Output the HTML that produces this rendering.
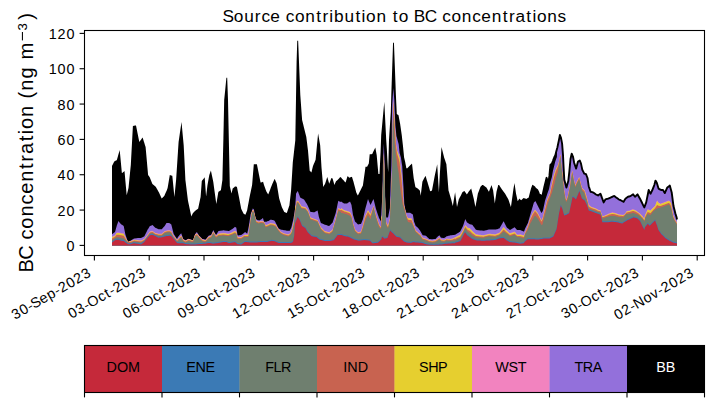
<!DOCTYPE html>
<html><head><meta charset="utf-8"><title>BC source contribution</title>
<style>html,body{margin:0;padding:0;background:#fff;width:714px;height:402px;overflow:hidden}
svg{display:block;font-family:"Liberation Sans",sans-serif}
text{font-family:"Liberation Sans",sans-serif}</style></head>
<body>
<svg width="714" height="402" viewBox="0 0 714 402">
<rect width="714" height="402" fill="#fff"/>
<polygon fill="#000000" points="112,245.6 112,165.7 112.1,165.7 113,163.98 114,162.07 114.3,161.5 115,161.11 116,160.55 116.7,160.16 116.8,160.1 117,159.41 118,155.96 118.4,154.58 119,152.51 119.7,150.1 120,153.26 121,163.81 121.9,173.3 122,173.22 123,172.37 123.7,171.78 124,171.52 124.5,171.1 125,176.58 125.4,180.96 126,187.53 126.7,195.2 127,194 128,190 128.5,188 129,183 130,173 130.6,167 130.8,165 131,161.29 132,142.71 132.9,126 133,125.98 134,125.79 134.1,125.77 135,125.59 136,125.4 137,130.43 137.6,133.45 138,135.46 139,140.49 139.3,142 140,141.02 141,139.63 142,138.24 142.6,137.4 143,138.69 144,141.93 144.2,142.57 145,145.16 145.6,147.1 146,151.56 147,162.72 147.4,167.19 148,173.88 148.1,175 149,176.32 149.7,177.35 149.8,177.5 150,178 151,180.5 152,183 152.4,184 152.5,184.08 153,184.49 154,185.32 155,186.14 155.3,186.39 155.8,186.8 156,187.16 157,188.95 158,190.73 158.5,191.63 159,192.52 159.1,192.7 160,194.74 161,197.01 161.7,198.6 162,198.3 163,197.3 164,196.3 164.2,196.1 164.5,195.42 165,194.28 166,192.02 166.5,190.88 166.8,190.2 167,189.65 167.6,188 168,185.64 169,179.73 169.3,177.95 169.8,175 170,175.06 171,175.38 171.3,175.48 172,175.7 172.3,175.8 173,182.83 173.7,189.87 174,192.88 174.4,196.9 175,190.94 176,180.99 176.1,180 177,166.32 178,151.12 178.4,145.04 178.6,142 179,139.24 180,132.34 181,125.45 181.2,124.07 181.5,122 182,127.32 183,137.95 183.2,140.08 183.7,145.4 184,151.51 185,171.86 185.4,180 185.6,181.62 186,184.87 187,192.99 187.9,200.3 188,200.77 188.4,202.67 189,205.51 190,210.24 191,214.98 191.1,215.45 191.3,216.4 192,215 193,213 193.1,212.9 194,212 195,211 195.1,210.9 195.5,210.5 196,210.17 196.9,209.58 197,209.52 198,208.87 198.1,208.8 199,204.52 199.1,204.04 200,199.76 200.6,196.9 201,191.6 201.8,181 202,180.74 202.3,180.36 203,179.47 204,178.19 204.7,177.3 205,181.41 205.5,188.27 206,195.13 206.1,196.5 207,189.11 207.5,185 208,182.22 208.7,178.33 209,176.67 209.3,175 210,173.03 210.9,170.5 211,170.98 211.1,171.46 212,175.77 213,180.56 213.3,182 214,187.13 215,194.47 216,201.8 216.3,204 217,199.93 218,194.12 218.4,191.8 218.5,191.74 219,191.42 220,190.78 220.9,190.2 221,189.52 222,182.72 222.4,180 223,154.8 223.4,138 223.7,123.75 224,109.5 224.2,100 225,91.93 226,81.84 226.3,78.81 226.4,77.8 227,77.8 227.2,77.8 228,100 228.8,138 228.9,142.8 229,147.6 229.8,186 230,186.88 231,191.29 231.5,193.5 232,191.42 232.4,189.75 232.7,188.5 233,188.25 234,187.41 235,186.57 235.2,186.4 236,186.59 236.3,186.66 236.9,186.8 237,187.29 237.6,190.26 238,192.24 238.6,195.2 239,197.29 240,202.52 241,207.75 241.1,208.28 241.2,208.8 242,210.4 243,212.4 243.7,213.8 244,213.96 244.6,214.28 245,214.49 245.4,214.7 246,213.22 247,210.75 247.1,210.5 247.2,209.96 248,205.6 248.4,203.43 248.9,200.71 249,200.16 249.6,196.9 250,195.01 250.6,192.18 251,190.29 251.7,186.99 252,185.57 252.1,185.1 252.3,182.65 252.8,176.54 253,174.09 253.1,172.86 253.4,169.19 253.8,164.3 253.9,164.3 254,164.3 254.5,164.3 255,164.3 255.1,164.3 255.6,164.3 256,164.3 256.2,164.3 256.9,164.3 257,164.79 257.3,166.28 258,169.74 258.4,171.72 259,174.69 259.5,177.16 260,179.63 260.6,182.6 261,182.47 261.8,182.22 262,182.15 262.9,181.86 263,181.83 263.1,181.8 263.5,183.27 264,185.1 265,187.78 265.1,188.05 265.7,189.66 266,190.46 266.3,191.26 266.5,191.8 267,192.56 267.4,193.18 268,194.09 268.2,194.4 268.5,193.66 269,192.42 269.9,190.2 270,189.94 270.2,189.42 270.7,188.11 271,187.32 271.8,185.23 272,184.71 272.5,183.4 273,182.38 273.5,181.35 274,180.33 274.6,179.1 274.7,178.9 275,179.58 275.2,180.03 275.8,181.38 276,181.83 276.3,182.5 276.7,183.4 277,185.22 277.4,187.66 278,191.3 278.6,194.95 279,197.38 279.2,198.6 279.7,200.23 280,201.22 280.8,203.83 281,204.48 281.8,207.1 282,207.5 283,209.5 284,211.5 284.1,211.7 284.3,212.1 285,212.35 286,212.71 286.8,213 287,212.42 287.5,210.95 288,209.49 288.1,209.2 289,206.57 289.4,205.4 289.7,202.72 290,200.04 290.3,197.35 291,191.09 291.1,190.2 291.4,185.28 292,175.43 292.8,162.3 293,160.54 293.1,159.66 293.7,154.38 294,151.74 294.2,149.98 294.5,147.34 294.8,144.7 295,142.94 295.3,140.3 296,98.14 296.1,92.12 296.6,62 296.9,52.17 297,48.89 297.25,40.7 297.6,40.7 297.8,40.7 298,40.7 298.15,40.7 298.2,41.97 298.5,49.62 299,62.36 299.3,70 299.5,75 300,87.5 300.2,92.5 300.3,95 301,104.72 301.5,111.67 302,118.61 302.1,120 303,123.62 304,127.65 305,131.67 305.3,132.88 306,135.69 306.3,136.9 307,142.5 307.3,144.9 307.9,149.7 308,150.5 309,162.44 309.7,170.8 310,171.1 310.5,171.6 311,172.1 311.4,172.5 311.8,170.9 312,170.1 313,166.1 313.1,165.7 314,163.58 314.4,162.63 315,161.22 315.6,159.8 316,155.59 316.3,152.44 317,145.07 317.6,138.76 318,134.55 318.1,133.5 318.9,138.03 319,138.6 319.5,141.43 320,144.27 320.2,145.4 320.8,155.55 321,158.94 321.5,167.4 322,173.16 323,184.69 323.2,187 324,185.61 324.7,184.39 325,183.87 325.1,183.7 326,180.92 327,177.83 327.3,176.9 328,179.41 329,182.98 329.2,183.7 329.9,181.92 330,181.66 331,179.12 331.4,178.1 332,178.25 332.5,178.38 332.6,178.4 333,179.89 333.8,182.87 334,183.61 334.4,185.1 335,183.62 335.7,181.89 335.9,181.4 336,181.31 337,180.44 337.5,180 337.6,179.89 338,179.47 338.3,179.14 339,178.4 340,177.33 340.4,176.9 340.9,177.45 341,177.56 341.5,178.11 342,178.66 343,179.77 344,180.87 344.3,181.2 345,181.9 345.6,182.5 346,181.17 347,177.86 347.5,176.2 347.7,176.2 348,176.48 348.4,176.86 349,177.42 349.4,177.8 350,177.54 351,177.1 351.5,176.88 351.9,176.7 352,177.02 353,180.19 353.6,182.1 353.8,182.88 354,183.65 355,187.54 356,191.42 356.2,192.2 357,193.9 357.8,195.6 358,195.21 359,193.25 359.1,193.05 360,191.28 360.4,190.5 361,189.3 362,187.3 362.9,185.5 363,184.78 364,177.59 364.5,173.99 365,170.4 365.5,166.8 366,166.8 367,166.8 367.1,166.8 368,165.05 368.8,163.5 369,161.43 369.7,154.2 369.9,154.2 370,154.2 370.5,154.2 371,154.2 371.4,154.2 372,154.05 372.2,154 372.6,153.16 373,152.32 373.5,151.27 374,150.23 375,148.13 375.3,147.5 376,151.3 376.7,155.1 377,158.45 378,169.63 378.4,174.1 379,174.1 379.5,174.1 380,163.96 380.6,151.8 381,140.6 381.2,135 381.3,133.93 381.5,131.78 382,126.41 382.5,121.04 382.9,116.74 383,115.66 383.2,113.52 383.8,107.07 384,104.92 384.3,101.7 384.4,103.7 384.7,109.7 385,115.7 385.2,119.7 385.3,121.7 386,135.7 386.2,139.7 386.8,148.4 387,152.07 387.4,159.42 387.9,168.6 388,169.73 388.2,172 388.6,155 389,139.7 389.9,125.8 390,124.26 390.1,122.71 390.6,114.99 390.8,111.9 390.9,108.52 391,105.14 391.3,95 391.4,92.02 391.7,83.07 391.8,80.09 392,74.12 392.2,68.15 392.3,65.17 392.6,56.22 392.8,50.26 393,44.29 393.05,42.8 393.3,42.8 393.8,42.8 393.95,42.8 394,44.14 394.3,52.17 394.4,54.85 394.8,65.55 394.9,68.23 395,70.91 395.4,81.62 395.5,84.29 395.7,89.65 395.9,95 396,97.11 396.1,99.22 396.3,103.44 396.4,105.56 396.8,114 397,114.14 397.4,114.42 398,114.85 398.5,115.2 398.7,116.27 399,117.88 399.6,121.09 399.9,122.69 400,123.23 400.2,124.3 400.4,125.71 400.9,129.24 401,129.95 401.2,131.36 401.3,132.07 401.8,135.6 402,137.37 402.2,139.13 402.5,141.78 402.6,142.67 402.9,145.32 403,146.2 403.4,150.27 403.5,151.29 403.7,153.33 404,156.38 404.1,157.4 404.3,158.24 405,161.16 405.2,162 405.5,163.64 406,166.36 406.3,168 406.4,168.1 406.9,168.6 407,168.5 408,167.45 409,166.41 409.2,166.2 410,165.43 410.1,165.33 410.8,164.66 411,164.46 411.6,163.89 412,163.5 412.9,171.34 413,172.21 413.2,173.95 413.7,178.3 414,179.84 415,184.95 415.4,187 415.6,187.13 416,187.39 416.4,187.65 417,188.05 417.9,188.63 418,188.7 419,189.64 419.8,190.4 420,191.58 420.3,193.34 420.7,195.7 421,193.23 422,184.99 422.4,181.7 422.7,181.12 423,180.54 424,178.6 425,176.67 425.5,175.7 425.9,177.01 426,177.34 426.7,179.64 427,180.63 427.6,182.6 428,183.94 429,187.28 429.1,187.62 430,190.63 430.2,191.3 431,190.9 432,190.4 432.3,188.8 433,185.05 433.9,180.24 434,179.71 434.6,176.5 435,174.62 435.5,172.28 436,169.93 437,165.24 437.2,164.3 437.8,174.15 438,177.43 438.9,192.2 439,190.27 439.4,182.53 439.8,174.8 440,171.53 441,155.18 441.5,147 441.8,148.2 442,149 443,153 444,157 444.1,157.4 444.2,157.7 445,160.1 445.8,162.5 446,163.1 446.4,164.3 446.6,166.79 447,171.76 448,184.19 448.5,190.4 449,192.07 450,195.42 450.6,197.43 451,198.77 451.1,199.1 452,202.81 452.8,206.1 453,204.89 454,198.85 454.9,193.41 455,192.8 455.1,192.2 456,199.21 457,207 458,202.84 458.9,199.1 459,198.91 460,197.06 460.2,196.69 461,195.2 462,193.06 462.4,192.2 462.5,192.14 463,191.84 464,191.24 464.4,191 465,191.82 465.3,192.22 466,193.18 466.9,194.4 467,194.25 467.5,193.48 468,192.72 468.6,191.8 469,191.29 469.8,190.28 470,190.02 471,188.75 471.2,188.5 472,191.73 472.5,193.75 473,195.77 473.7,198.6 474,200.1 475,205.1 475.4,207.1 475.9,204.38 476,203.84 477,198.4 477.9,193.5 478,193.24 479,190.67 480,188.09 480.5,186.8 481,186.27 482,185.21 482.1,185.1 483,185.1 483.7,185.61 484,185.84 485,186.57 486,187.31 486.4,187.6 487,188.61 488,190.29 488.9,191.8 489,191.54 490,188.97 491,186.39 491.5,185.1 492,186.69 493,189.88 493.1,190.2 494,197.24 494.8,203.5 495,202.12 495.3,200.06 496,195.24 496.5,191.8 497,189.83 498,185.89 498.2,185.1 499,185.1 499.1,185.1 499.4,185.55 500,186.45 501,187.95 501.5,188.7 502,189.45 502.5,190.2 503,190.86 503.6,191.65 504,192.18 505,193.5 506,195.26 506.8,196.68 507,197.03 508,198.79 508.4,199.5 509,201.32 509.9,204.06 510,204.36 510.9,207.1 511,206.38 512,199.23 512.5,195.65 513,192.08 513.5,188.5 514,185.75 514.5,183 514.6,183.7 515,186.5 516,193.5 517,198.03 517.2,198.94 517.7,201.2 518,200.74 519,199.21 519.4,198.6 520,199.2 520.3,199.5 521,200.2 521.1,200.3 522,199.6 523,198.6 523.5,198.1 524,198.23 524.5,198.37 525,198.5 526,198.77 526.5,198.9 527,198.56 527.8,198.01 528,197.88 528.7,197.4 529,196.23 530,192.31 531,188.4 532,185.76 532.4,184.7 532.5,184.77 532.9,185.03 533,185.09 533.9,185.68 534,185.74 534.7,186.2 535,186.59 535.4,187.12 536,187.9 536.9,188.57 537,188.65 537.5,189.03 538,189.4 539,191.57 539.2,192 539.5,192.83 539.9,193.94 540,194.22 541,197 541.4,196.44 542,195.59 542.5,194.88 542.7,194.6 542.9,193.68 543,193.22 543.6,190.47 544,188.64 544.4,186.8 544.8,185.16 545,184.35 545.1,183.94 545.9,180.66 546,180.25 546.6,177.8 547,178.9 547.4,179.7 548,180.9 548.1,181.1 548.5,181.9 549,178.57 549.4,175.9 549.8,171.54 549.9,170.45 550,169.36 550.4,165 551,164.4 551.9,163.5 552,163.25 552.9,161 553,160.73 553.2,160.2 553.9,158.33 554,158.07 554.4,157 555,155.8 555.4,155 555.9,153 556,152.6 556.2,151.8 556.6,150.33 556.9,149.23 557,148.87 557.4,147.4 557.9,145.02 558,144.54 558.7,141.2 559,139.65 559.1,139.13 559.2,138.62 559.4,137.58 559.9,135 560,135.25 560.1,135.5 560.4,136.25 560.8,137.25 560.9,137.5 561,138.02 561.2,139.05 562,143.18 562.1,143.7 562.5,148.68 562.7,151.17 563,154.9 563.6,167.3 564,174.44 564.2,178.01 564.3,179.8 565,182.37 565.6,184.57 566,186.03 566.4,187.5 566.5,187.16 566.8,186.13 567,185.45 568,182.03 568.3,181 569,174.7 569.2,172.9 569.3,172 570,164.42 570.2,162.25 570.5,159 571,156.75 571.7,153.6 572,154.32 572.2,154.79 572.6,155.75 573,156.7 574,161.95 574.2,163 574.3,163.29 575,165.36 575.4,166.54 576,168.31 576.1,168.6 576.9,165.53 577,165.15 577.9,161.7 578,161.64 579,161.01 579.2,160.88 579.4,160.75 579.8,160.5 580,161.02 580.6,162.57 581,163.6 581.9,167.89 582,168.37 582.1,168.85 582.3,169.8 583,171.16 584,173.11 584.2,173.5 584.4,173.58 584.5,173.62 585,173.81 586,174.2 586.9,176.48 587,176.73 587.5,178 588,181.42 588.7,186.2 589,187.08 590,190.03 590.6,191.8 591,191.9 591.2,191.94 592,192.14 592.5,192.26 593,192.38 593.1,192.4 594,193.08 595,193.84 595.6,194.3 596,194.49 597,194.97 597.4,195.16 598,195.45 598.1,195.5 598.7,195.05 599,194.83 600,194.07 600.5,193.7 601,195.12 601.8,197.4 602,197.93 602.4,198.98 603,200.56 603.7,202.4 604,201.88 604.9,200.33 605,200.16 605.5,199.3 606,199.18 606.1,199.16 607,198.94 607.4,198.84 608,198.7 608.6,198.45 609,198.28 609.9,197.9 610,197.86 611,197.44 611.1,197.4 612,196.96 612.4,196.77 613,196.48 614,196 614.2,195.9 614.9,196.45 615,196.53 615.5,196.93 616,197.32 616.1,197.4 617,198.08 617.3,198.31 618,198.84 618.6,199.3 619,199.49 619.8,199.88 620,199.97 621,200.45 621.1,200.5 622,200.97 622.3,201.12 623,201.49 623.6,201.8 624,201.11 624.8,199.73 625,199.39 625.4,198.7 626,198.24 626.7,197.71 627,197.48 627.9,196.8 628,196.77 629,196.51 629.8,196.3 630,196.25 630.2,196.2 631,195.68 632,195.02 632.9,194.43 633,194.37 633.1,194.3 633.5,194.83 633.7,195.09 634,195.48 635,196.8 636,195.8 636.8,195 637,194.8 637.5,194.3 638,195.18 639,196.94 640,198.7 641,200.74 642,202.78 642.4,203.6 643,204.8 644,206.8 644.3,207.4 644.7,206.35 645,205.56 646,202.93 646.2,202.4 647,198.43 647.7,194.96 648,193.47 648.7,190 649,190.62 649.7,192.06 650,192.67 650.4,193.49 650.5,193.7 651,192.73 651.7,191.36 652,190.78 652.4,190 653,188.42 654,185.79 654.3,185 655,182.43 655.1,182.07 655.5,180.6 656,181.39 656.7,182.5 657,183.48 657.1,183.81 658,186.74 658.4,188.05 658.6,188.7 659,188.91 659.8,189.32 660,189.43 660.4,189.64 661,189.95 661.1,190 662,190 663,190 663.8,191.38 664,191.72 664.8,193.1 665,192.65 665.1,192.43 666,190.41 667,188.17 667.3,187.5 668,186.97 669,186.21 669.1,186.13 669.8,185.6 670,186.32 671,189.89 671.1,190.25 671.7,192.4 672,194.68 673,202.29 673.2,203.82 673.5,206.1 674,208.07 675,212.02 675.2,212.81 675.4,213.6 675.8,214.83 676,215.45 676.5,216.99 676.6,217.3 677,219.5 677,245.6"/>
<polygon fill="#9370db" points="112,245.6 112,234.2 112.1,234.2 113,233.52 114,232.76 114.3,232.53 115,232 116,228.41 116.7,225.9 116.8,225.62 117,225.05 118,222.23 118.4,221.1 119,221.82 119.7,222.65 120,223.01 121,224.2 121.9,224.77 122,224.83 123,225.46 123.7,225.9 124,227.44 124.5,229.99 125,232.55 125.4,234.6 126,236.31 126.7,238.3 127,239.15 128,242 128.5,241.75 129,241.5 130,241 130.6,240.7 130.8,240.57 131,240.45 132,239.82 132.9,239.25 133,239.19 134,238.56 134.1,238.5 135,238.4 136,238.28 137,238.17 137.6,238.1 138,238.1 139,238.1 139.3,238.1 140,238.1 141,238.1 142,237.6 142.6,237.3 143,237.1 144,236.6 144.2,236.5 145,234.9 145.6,233.7 146,232.9 147,230.9 147.4,230.1 148,229.08 148.1,228.91 149,227.39 149.7,226.2 149.8,226.16 150,226.07 151,225.64 152,225.21 152.4,225.04 152.5,225 153,225.48 154,226.45 155,227.41 155.3,227.7 155.8,227.95 156,228.05 157,228.55 158,229.05 158.5,229.3 159,229.3 159.1,229.3 160,229.3 161,229.3 161.7,229.3 162,228.97 163,227.86 164,226.75 164.2,226.53 164.5,226.2 165,225.4 166,223.8 166.5,223 166.8,223 167,223 167.6,223 168,223 169,223 169.3,223 169.8,223.4 170,223.56 171,224.36 171.3,224.6 172,227.37 172.3,228.56 173,231.33 173.7,234.1 174,234.54 174.4,235.12 175,235.99 176,237.45 176.1,237.59 177,238.9 178,237.11 178.4,236.4 178.6,236.17 179,235.71 180,234.57 181,233.43 181.2,233.2 181.5,234.06 182,235.48 183,238.33 183.2,238.9 183.7,239.23 184,239.43 185,240.1 185.4,240.37 185.6,240.5 186,240.24 187,239.6 187.9,239.02 188,238.96 188.4,238.7 189,238.92 190,239.29 191,239.66 191.1,239.7 191.3,239.78 192,240.06 193,240.46 193.1,240.5 194,237.62 195,234.42 195.1,234.1 195.5,233.66 196,233.1 196.9,232.1 197,232.26 198,233.9 198.1,234.06 199,235.54 199.1,235.7 200,236.6 200.6,237.2 201,237.6 201.8,238.4 202,238.6 202.3,238.9 203,239.07 204,239.32 204.7,239.5 205,239.57 205.5,239.7 206,239.07 206.1,238.95 207,237.82 207.5,237.2 208,236.57 208.7,235.7 209,235.6 209.3,235.5 210,235.27 210.9,234.97 211,234.93 211.1,234.9 212,232.94 213,230.75 213.3,230.1 214,231.42 215,233.3 216,234.9 216.3,234.44 217,233.38 218,231.86 218.4,231.25 218.5,231.1 219,231.02 220,230.87 220.9,230.73 221,230.72 222,230.56 222.4,230.5 223,230.41 223.4,230.35 223.7,230.3 224,230.35 224.2,230.38 225,230.5 226,230.65 226.3,230.7 226.4,230.72 227,230.81 227.2,230.84 228,230.96 228.8,231.08 228.9,231.1 229,231.04 229.8,230.56 230,230.44 231,229.84 231.5,229.54 232,229.24 232.4,229 232.7,228.75 233,228.49 234,227.65 235,226.8 235.2,226.94 236,227.49 236.3,227.7 236.9,231.3 237,231.9 237.6,235.5 238,235.45 238.6,235.39 239,235.34 240,235.23 241,235.11 241.1,235.1 241.2,235.03 242,234.43 243,233.69 243.7,233.17 244,232.95 244.6,232.5 245,232 245.4,232.29 246,232.73 247,233.45 247.1,233.53 247.2,233.6 248,229.88 248.4,228.02 248.9,225.7 249,225.04 249.6,221.09 250,218.45 250.6,214.5 251,213.39 251.7,211.45 252,210.62 252.1,210.34 252.3,209.79 252.8,208.4 253,208.6 253.1,208.7 253.4,209 253.8,209.4 253.9,209.5 254,210.03 254.5,212.68 255,215.32 255.1,215.85 255.6,218.5 256,218.88 256.2,219.06 256.9,219.72 257,219.82 257.3,220.1 258,220.2 258.4,220.25 259,220.33 259.5,220.4 260,220.1 260.6,219.73 261,219.49 261.8,219 262,218.8 262.9,217.9 263,218.25 263.1,218.61 263.5,220.03 264,221.8 265,221.8 265.1,221.8 265.7,221.8 266,221.8 266.3,221.8 266.5,221.72 267,221.51 267.4,221.35 268,221.11 268.2,221.03 268.5,220.9 269,220.7 269.9,220.12 270,220.05 270.2,219.92 270.7,219.6 271,219.67 271.8,219.84 272,219.88 272.5,219.99 273,220.1 273.5,220.29 274,220.47 274.6,220.7 274.7,220.89 275,221.48 275.2,221.86 275.8,223.03 276,223.42 276.3,224 276.7,224.78 277,225.37 277.4,226.15 278,227.33 278.6,228.5 279,228.7 279.2,228.8 279.7,229.05 280,229.2 280.8,229.6 281,229.64 281.8,229.78 282,229.82 283,230 284,230.18 284.1,230.2 284.3,230.24 285,230.36 286,230.54 286.8,230.68 287,230.71 287.5,230.8 288,230.8 288.1,230.8 289,230.8 289.4,230.8 289.7,230.8 290,230.2 290.3,229.6 291,228.2 291.1,228 291.4,227.4 292,224.82 292.8,221.39 293,220.53 293.1,220.1 293.7,217.05 294,215.52 294.2,214.5 294.5,212.4 294.8,210.3 295,208.9 295.3,204.7 296,194.9 296.1,193.5 296.6,192.76 296.9,192.32 297,192.18 297.25,191.81 297.6,191.29 297.8,191 298,191.54 298.15,191.95 298.2,192.08 298.5,192.9 299,194.25 299.3,195.06 299.5,195.6 300,196.96 300.2,197.5 300.3,197.55 301,197.92 301.5,198.18 302,198.45 302.1,198.5 303,198.97 304,199.5 305,201.08 305.3,201.55 306,202.65 306.3,203.12 307,204.23 307.3,204.7 307.9,206.07 308,206.3 309,208.58 309.7,210.17 310,210.86 310.5,212 311,212.03 311.4,212.05 311.8,212.07 312,212.08 313,212.13 313.1,212.13 314,212.18 314.4,212.2 315,211.88 315.6,211.56 316,211.35 316.3,211.19 317,210.82 317.6,210.5 318,212.5 318.1,213 318.9,217 319,217.31 319.5,218.83 320,220.36 320.2,220.97 320.8,222.8 321,222.9 321.5,223.14 322,223.38 323,223.87 323.2,223.97 324,224.36 324.7,224.7 325,224.79 325.1,224.82 326,225.08 327,225.36 327.3,225.45 328,225.65 329,225.94 329.2,226 329.9,225.32 330,225.22 331,224.25 331.4,223.87 332,223.28 332.5,222.8 332.6,222.5 333,221.28 333.8,218.86 334,218.25 334.4,217.04 335,215.22 335.7,213.1 335.9,212.15 336,211.68 337,206.95 337.5,204.58 337.6,204.11 338,202.22 338.3,200.8 339,201.15 340,201.65 340.4,201.85 340.9,202.1 341,201.5 341.5,201.83 342,202.17 343,202.83 344,203.5 344.3,203.5 345,203.5 345.6,203.5 346,203.5 347,203.5 347.5,203.17 347.7,203.03 348,202.83 348.4,202.57 349,202.17 349.4,201.9 350,201.5 351,203.83 351.5,205 351.9,207.64 352,208.3 353,214.9 353.6,216.85 353.8,217.5 354,218.15 355,221.4 356,222.4 356.2,222.6 357,223.4 357.8,224.2 358,224.4 359,224.23 359.1,224.22 360,224.07 360.4,224 361,223.9 362,221.4 362.9,219.15 363,218.9 364,214.4 364.5,212.15 365,209.9 365.5,208.08 366,206.27 367,202.63 367.1,202.27 368,199 368.8,200.92 369,201.4 369.7,203.08 369.9,203.56 370,203.8 370.5,205 371,204 371.4,203.2 372,202 372.2,201.6 372.6,200.8 373,200 373.5,199 374,201 375,205 375.3,206.2 376,209 376.7,211.08 377,211.97 378,214.93 378.4,216.12 379,217.9 379.5,218.78 380,219.65 380.6,220.7 381,221.4 381.2,216.84 381.3,214.56 381.5,210 382,201.7 382.5,193.4 382.9,165 383,162.62 383.2,157.87 383.8,143.6 384,148.36 384.3,155.49 384.4,157.87 384.7,165 385,186.55 385.2,200.92 385.3,208.1 386,215.33 386.2,217.4 386.8,217.4 387,217.4 387.4,217.4 387.9,217.4 388,217.4 388.2,216.42 388.6,214.46 389,212.51 389.9,208.1 390,204.8 390.1,201.5 390.6,185 390.8,180 390.9,177.5 391,175 391.3,167.5 391.4,165 391.7,150 391.8,125 392,115 392.2,105 392.3,103.45 392.6,98.82 392.8,95.73 393,92.64 393.05,91.86 393.3,88 393.8,94 393.95,95.8 394,96.4 394.3,100 394.4,102.5 394.8,112.5 394.9,115 395,117.08 395.4,125.4 395.5,126.45 395.7,128.55 395.9,130.65 396,131.7 396.1,132.75 396.3,134.85 396.4,135.9 396.8,137.36 397,138.09 397.4,139.55 398,141.74 398.5,143.57 398.7,144.3 399,147.2 399.6,153 399.9,154.02 400,154.35 400.2,155.03 400.4,155.71 400.9,157.4 401,158.07 401.2,159.41 401.3,160.08 401.8,163.42 402,164.76 402.2,166.1 402.5,171.27 402.6,173 402.9,177.8 403,179.4 403.4,185.8 403.5,187.8 403.7,191.8 404,197.8 404.1,199.8 404.3,203.8 405,207.42 405.2,208.45 405.5,210 406,211.56 406.3,212.49 406.4,212.8 406.9,212.8 407,212.8 408,212.8 409,212.8 409.2,212.8 410,212.8 410.1,212.8 410.8,213.23 411,213.35 411.6,213.71 412,213.95 412.9,214.5 413,215.13 413.2,216.38 413.7,219.52 414,221.4 415,224.09 415.4,225.16 415.6,225.7 416,226.05 416.4,226.4 417,226.92 417.9,227.7 418,227.83 419,229.17 419.8,230.23 420,230.5 420.3,230.9 420.7,231.63 421,232.18 422,234.02 422.4,234.75 422.7,235.3 423,235.34 424,235.46 425,235.59 425.5,235.65 425.9,235.7 426,235.8 426.7,236.5 427,236.8 427.6,237.4 428,237.8 429,238.8 429.1,238.9 430,239.01 430.2,239.04 431,239.14 432,239.26 432.3,239.3 433,239.21 433.9,239.1 434,239.09 434.6,239.01 435,238.96 435.5,238.9 436,238.38 437,237.33 437.2,237.13 437.8,236.5 438,236.35 438.9,235.68 439,235.6 439.4,235.3 439.8,235.9 440,236.2 441,237.7 441.5,237.76 441.8,237.8 442,237.82 443,237.95 444,238.07 444.1,238.09 444.2,238.1 445,237.5 445.8,236.9 446,236.75 446.4,236.45 446.6,236.3 447,236.2 448,235.95 448.5,235.83 449,235.7 450,235.45 450.6,235.3 451,235.25 451.1,235.24 452,235.14 452.8,235.04 453,235.02 454,234.9 454.9,234.8 455,234.8 455.1,234.74 456,234.18 457,233.57 458,232.95 458.9,232.4 459,232.34 460,231.72 460.2,231.6 461,230 462,228 462.4,227.2 462.5,227 463,226 464,223 464.4,221.8 465,220 465.3,219.1 466,220.5 466.9,222.3 467,222.5 467.5,222.8 468,223.11 468.6,223.47 469,223.71 469.8,224.2 470,224.26 471,224.56 471.2,224.61 472,224.85 472.5,225 473,225.71 473.7,226.69 474,227.12 475,228.53 475.4,229.09 475.9,229.8 476,229.82 477,229.99 477.9,230.14 478,230.16 479,230.33 480,230.5 480.5,230.53 481,230.55 482,230.61 482.1,230.61 483,230.66 483.7,230.7 484,230.64 485,230.43 486,230.22 486.4,230.14 487,230.02 488,229.81 488.9,229.62 489,229.6 490,229.6 491,229.6 491.5,229.6 492,229.6 493,229.6 493.1,229.6 494,229.6 494.8,229.6 495,229.6 495.3,229.6 496,229.41 496.5,229.28 497,229.14 498,228.88 498.2,228.82 499,228.61 499.1,228.58 499.4,228.5 500,227.5 501,225.83 501.5,225 502,224.1 502.5,223.19 503,222.29 503.6,221.2 504,222 505,224 506,225.94 506.8,227.5 507,227.67 508,228.51 508.4,228.84 509,229.35 509.9,230.1 510,230.04 510.9,229.48 511,229.42 512,228.81 512.5,228.5 513,228.19 513.5,227.88 514,227.57 514.5,227.26 514.6,227.2 515,227.65 516,228.76 517,229.88 517.2,230.1 517.7,230.1 518,230.1 519,230.1 519.4,230.1 520,230.1 520.3,230.1 521,230.38 521.1,230.42 522,230.79 523,231.19 523.5,231.4 524,231.6 524.5,230.15 525,228.7 526,226.73 526.5,225.75 527,224.77 527.8,223.19 528,222.8 528.7,220.35 529,219.3 530,215.8 531,212.3 532,208.96 532.4,207.62 532.5,207.28 532.9,205.94 533,205.61 533.9,202.6 534,202.5 534.7,201.8 535,201.5 535.4,201.1 536,202.3 536.9,204.1 537,204.3 537.5,205.27 538,206.25 539,208.21 539.2,208.6 539.5,209.21 539.9,210.03 540,210.24 541,212.28 541.4,213.1 542,212.18 542.5,211.41 542.7,211.11 542.9,210.8 543,210.33 543.6,207.49 544,205.6 544.4,203.71 544.8,201.82 545,200.87 545.1,200.4 545.9,198.04 546,197.75 546.6,195.98 547,194.8 547.4,193.62 548,191.85 548.1,191.55 548.5,190.38 549,188.9 549.4,186.9 549.8,184.9 549.9,184.4 550,183.9 550.4,181.9 551,179.9 551.9,176.9 552,176.3 552.9,170.9 553,170.51 553.2,169.73 553.9,167 554,166.6 554.4,165 555,162.6 555.4,161 555.9,159.67 556,159.4 556.2,158.87 556.6,157.8 556.9,157 557,148.87 557.4,147.4 557.9,145.02 558,144.54 558.7,141.2 559,139.65 559.1,139.13 559.2,138.62 559.4,137.58 559.9,135 560,135.25 560.1,135.5 560.4,136.25 560.8,137.25 560.9,137.5 561,138.02 561.2,139.05 562,143.18 562.1,143.7 562.5,148.68 562.7,151.17 563,154.9 563.6,167.3 564,174.44 564.2,178.01 564.3,179.8 565,182.37 565.6,184.57 566,186.03 566.4,187.5 566.5,187.16 566.8,186.13 567,185.45 568,182.03 568.3,181 569,174.7 569.2,172.9 569.3,172 570,164.42 570.2,162.25 570.5,159 571,156.75 571.7,153.6 572,154.32 572.2,154.79 572.6,155.75 573,156.7 574,161.95 574.2,163 574.3,163.29 575,165.36 575.4,166.54 576,168.31 576.1,168.6 576.9,165.53 577,165.15 577.9,161.7 578,161.64 579,161.01 579.2,160.88 579.4,160.75 579.8,160.5 580,161.02 580.6,162.57 581,163.6 581.9,167.89 582,168.37 582.1,168.85 582.3,169.8 583,171.16 584,173.11 584.2,173.5 584.4,173.58 584.5,173.62 585,173.81 586,174.2 586.9,176.48 587,176.73 587.5,178 588,181.42 588.7,186.2 589,187.08 590,190.03 590.6,191.8 591,191.9 591.2,191.94 592,192.14 592.5,192.26 593,192.38 593.1,192.4 594,193.08 595,193.84 595.6,194.3 596,194.49 597,194.97 597.4,195.16 598,195.45 598.1,195.5 598.7,195.05 599,194.83 600,194.07 600.5,193.7 601,195.12 601.8,197.4 602,197.93 602.4,198.98 603,200.56 603.7,202.4 604,201.88 604.9,200.33 605,200.16 605.5,199.3 606,199.18 606.1,199.16 607,198.94 607.4,198.84 608,198.7 608.6,198.45 609,198.28 609.9,197.9 610,197.86 611,197.44 611.1,197.4 612,196.96 612.4,196.77 613,196.48 614,196 614.2,195.9 614.9,196.45 615,196.53 615.5,196.93 616,197.32 616.1,197.4 617,198.08 617.3,198.31 618,198.84 618.6,199.3 619,199.49 619.8,199.88 620,199.97 621,200.45 621.1,200.5 622,200.97 622.3,201.12 623,201.49 623.6,201.8 624,201.11 624.8,199.73 625,199.39 625.4,198.7 626,198.24 626.7,197.71 627,197.48 627.9,196.8 628,196.77 629,196.51 629.8,196.3 630,196.25 630.2,196.2 631,195.68 632,195.02 632.9,194.43 633,194.37 633.1,194.3 633.5,194.83 633.7,195.09 634,195.48 635,196.8 636,195.8 636.8,195 637,194.8 637.5,194.3 638,195.18 639,196.94 640,198.7 641,200.74 642,202.78 642.4,203.6 643,204.8 644,206.8 644.3,207.4 644.7,206.35 645,205.56 646,202.93 646.2,202.4 647,198.43 647.7,194.96 648,193.47 648.7,190 649,190.62 649.7,192.06 650,192.67 650.4,193.49 650.5,193.7 651,192.73 651.7,191.36 652,190.78 652.4,190 653,188.42 654,185.79 654.3,185 655,182.43 655.1,182.07 655.5,180.6 656,181.39 656.7,182.5 657,183.48 657.1,183.81 658,186.74 658.4,188.05 658.6,188.7 659,188.91 659.8,189.32 660,189.43 660.4,189.64 661,189.95 661.1,190 662,190 663,190 663.8,191.38 664,191.72 664.8,193.1 665,192.65 665.1,192.43 666,190.41 667,188.17 667.3,187.5 668,186.97 669,186.21 669.1,186.13 669.8,185.6 670,186.32 671,189.89 671.1,190.25 671.7,192.4 672,194.68 673,202.29 673.2,203.82 673.5,206.1 674,208.07 675,212.02 675.2,212.81 675.4,213.6 675.8,214.83 676,215.45 676.5,216.99 676.6,217.3 677,219.5 677,245.6"/>
<polygon fill="#f283bf" points="112,245.6 112,236.8 112.1,236.8 113,236.33 114,235.82 114.3,235.66 115,235.3 116,233.65 116.7,232.5 116.8,232.5 117,232.5 118,232.5 118.4,232.5 119,232.62 119.7,232.75 120,232.81 121,233 121.9,233.17 122,233.19 123,233.37 123.7,233.5 124,234.12 124.5,235.15 125,236.18 125.4,237 126,238.27 126.7,239.4 127,239.77 128,242 128.5,241.75 129,241.5 130,241 130.6,240.9 130.8,240.83 131,240.75 132,240.38 132.9,240.05 133,240.01 134,239.64 134.1,239.6 135,239.7 136,239.82 137,239.93 137.6,240 138,240.06 139,240.21 139.3,240.25 140,240.35 141,240.5 142,240 142.6,239.7 143,239.5 144,239 144.2,238.9 145,237.9 145.6,237.15 146,236.65 147,235.4 147.4,234.9 148,234.07 148.1,233.93 149,232.67 149.7,231.7 149.8,231.67 150,231.61 151,231.33 152,231.04 152.4,230.93 152.5,230.9 153,231.26 154,231.97 155,232.69 155.3,232.9 155.8,233.03 156,233.07 157,233.32 158,233.57 158.5,233.7 159,233.7 159.1,233.7 160,233.7 161,233.7 161.7,233.7 162,233.44 163,232.59 164,231.73 164.2,231.56 164.5,231.3 165,231.1 166,230.7 166.5,230.5 166.8,230.46 167,230.43 167.6,230.34 168,230.29 169,230.14 169.3,230.1 169.8,230.4 170,230.52 171,231.12 171.3,231.3 172,232.58 172.3,233.13 173,234.42 173.7,235.7 174,236.06 174.4,236.55 175,237.28 176,238.49 176.1,238.61 177,239.7 178,238.84 178.4,238.5 178.6,238.27 179,237.81 180,236.67 181,235.53 181.2,235.3 181.5,235.9 182,236.9 183,238.9 183.2,239.3 183.7,239.55 184,239.7 185,240.2 185.4,240.4 185.6,240.5 186,240.27 187,239.7 187.9,239.19 188,239.13 188.4,238.9 189,239.08 190,239.37 191,239.67 191.1,239.7 191.3,239.78 192,240.06 193,240.46 193.1,240.5 194,237.62 195,234.78 195.1,234.5 195.5,234.23 196,233.9 196.9,233.3 197,233.43 198,234.7 198.1,234.83 199,235.97 199.1,236.1 200,237 200.6,237.6 201,238 201.8,238.8 202,239 202.3,239.3 203,239.47 204,239.72 204.7,239.9 205,239.97 205.5,240.1 206,239.54 206.1,239.43 207,238.41 207.5,237.85 208,237.29 208.7,236.5 209,236.4 209.3,236.3 210,236.07 210.9,235.77 211,235.73 211.1,235.7 212,233.9 213,231.9 213.3,231.3 214,232.45 215,234.1 216,235.7 216.3,235.48 217,234.89 218,233.93 218.4,233.55 218.5,233.45 219,233.4 220,233.31 220.9,233.22 221,233.21 222,233.1 222.4,233.05 223,232.98 223.4,232.93 223.7,232.9 224,232.95 224.2,232.98 225,233.1 226,233.25 226.3,233.3 226.4,233.32 227,233.4 227.2,233.42 228,233.48 228.8,233.54 228.9,233.55 229,233.51 229.8,233.16 230,233.08 231,232.65 231.5,232.44 232,232.19 232.4,232 232.7,231.85 233,231.7 234,231.2 235,230.7 235.2,230.82 236,231.32 236.3,231.5 236.9,234.02 237,234.43 237.6,236.85 238,236.88 238.6,236.92 239,236.95 240,237 241,237 241.1,237 241.2,236.94 242,236.43 243,235.8 243.7,235.32 244,235.11 244.6,234.7 245,234.55 245.4,234.55 246,234.55 247,234.55 247.1,234.55 247.2,234.55 248,234.55 248.4,234.55 248.9,230.86 249,230.09 249.6,225.48 250,222.4 250.6,218.82 251,216.46 251.7,212.3 252,211.66 252.1,211.34 252.3,210.3 252.8,210.03 253,209.92 253.1,209.86 253.4,209.7 253.8,211.16 253.9,211.52 254,211.89 254.5,213.71 255,215.54 255.1,215.9 255.6,218.5 256,219.58 256.2,220.4 256.9,220.75 257,220.8 257.3,220.95 258,221.3 258.4,221.5 259,221.39 259.5,221.31 260,221.22 260.6,221.11 261,221.04 261.8,220.9 262,220.95 262.9,221.2 263,221.23 263.1,221.25 263.5,221.36 264,221.8 265,223.79 265.1,224.02 265.7,224.97 266,224.87 266.3,224.78 266.5,224.71 267,224.55 267.4,224.42 268,224.16 268.2,224.07 268.5,223.94 269,223.7 269.9,223.27 270,223.22 270.2,223.12 270.7,223.02 271,223.06 271.8,223.16 272,223.18 272.5,223.24 273,223.31 273.5,223.41 274,223.58 274.6,223.79 274.7,223.83 275,223.94 275.2,224 275.8,224.7 276,225.03 276.3,225.54 276.7,226.19 277,226.65 277.4,227.27 278,228.2 278.6,228.93 279,229.41 279.2,229.66 279.7,230.26 280,230.63 280.8,231.6 281,231.7 281.8,232.08 282,232.18 283,232.67 284,233.15 284.1,233.2 284.3,233.26 285,233.47 286,233.77 286.8,234.01 287,234.07 287.5,234.21 288,234.22 288.1,234.22 289,233.85 289.4,233.69 289.7,233.53 290,233.23 290.3,232.91 291,231.75 291.1,231.59 291.4,231.09 292,228.94 292.8,225.78 293,224.99 293.1,224.6 293.7,221.85 294,220.47 294.2,219.13 294.5,216.5 294.8,213.8 295,208.9 295.3,206.86 296,204.21 296.1,203.83 296.6,201.94 296.9,200.55 297,200.57 297.25,200.63 297.6,200.7 297.8,200.75 298,200.79 298.15,200.8 298.2,200.8 298.5,201.14 299,201.96 299.3,202.45 299.5,202.77 300,203.59 300.2,203.92 300.3,204.08 301,205.21 301.5,206 302,206.17 302.1,206.2 303,206.43 304,206.68 305,206.93 305.3,207 306,207.78 306.3,208.12 307,208.9 307.3,209.23 307.9,209.9 308,210.18 309,213.03 309.7,215.02 310,215.88 310.5,217.3 311,217.51 311.4,217.67 311.8,217.83 312,217.92 313,218.33 313.1,218.37 314,218.67 314.4,218.8 315,219.04 315.6,219.28 316,219.4 316.3,219.49 317,219.71 317.6,219.9 318,220.79 318.1,221.01 318.9,222.78 319,223.01 319.5,224.12 320,225.22 320.2,225.67 320.8,227 321,227.2 321.5,227.7 322,228.2 323,229.2 323.2,229.4 324,230.2 324.7,230.9 325,230.99 325.1,231.02 326,231.28 327,231.56 327.3,231.65 328,231.85 329,232.14 329.2,232.2 329.9,231.65 330,231.57 331,230.78 331.4,230.47 332,229.99 332.5,229.6 332.6,229.26 333,227.88 333.8,225.13 334,224.44 334.4,223.07 335,221.21 335.7,218.8 335.9,218 336,217.6 337,213.4 337.5,211.28 337.6,210.86 338,209.17 338.3,207.9 339,208.25 340,208.75 340.4,208.95 340.9,209.2 341,207.9 341.5,208.23 342,208.57 343,209.23 344,209.9 344.3,210 345,210.23 345.6,210.43 346,210.57 347,210.9 347.5,211.07 347.7,211.13 348,211.23 348.4,211.37 349,211.57 349.4,211.7 350,211.9 351,213.9 351.5,214.9 351.9,217.03 352,217.57 353,222.85 353.6,224.8 353.8,225.45 354,226.1 355,229.35 356,230.34 356.2,230.54 357,231.33 357.8,232.11 358,232.3 359,232.04 359.1,232.01 360,231.73 360.4,231.6 361,231.4 362,228.15 362.9,225.23 363,224.9 364,220.65 364.5,218.53 365,216.4 365.5,215.33 366,214.27 367,212.13 367.1,211.92 368,210 368.8,211.25 369,211.56 369.7,212.65 369.9,212.96 370,213.12 370.5,213.9 371,212.58 371.4,211.53 372,209.95 372.2,209.42 372.6,208.37 373,207.32 373.5,205.5 374,207.58 375,211.34 375.3,212.41 376,214.9 376.7,217 377,217.9 378,220.9 378.4,222.1 379,223.9 379.5,224.65 380,225.4 380.6,226.3 381,226.85 381.2,222.14 381.3,219.76 381.5,215 382,217.3 382.5,200 382.9,184.23 383,180.29 383.2,172.4 383.8,152.4 384,159.07 384.3,169.07 384.4,172.4 384.7,183.65 385,194.9 385.2,202.4 385.3,208.1 386,218.16 386.2,222.1 386.8,223.33 387,223.74 387.4,224.57 387.9,225.59 388,225.8 388.2,225.02 388.6,223.46 389,221.91 389.9,218.4 390,216.3 390.1,214.2 390.6,203.7 390.8,199.5 390.9,197.4 391,195.18 391.3,188.51 391.4,186.29 391.7,179.62 391.8,177.4 392,169.4 392.2,161.4 392.3,157.4 392.6,143.4 392.8,122.8 393,117.44 393.05,116.1 393.3,100 393.8,107.94 393.95,110.32 394,111.11 394.3,115.88 394.4,117.46 394.8,123.81 394.9,125.4 395,127.17 395.4,134.23 395.5,136 395.7,138.77 395.9,141.53 396,142.92 396.1,144.3 396.3,145.57 396.4,146.2 396.8,148.73 397,150 397.4,151.14 398,152.85 398.5,154.27 398.7,154.84 399,155.69 399.6,157.4 399.9,160.66 400,161.75 400.2,163.93 400.4,166.1 400.9,169.93 401,170.7 401.2,172.23 401.3,173 401.8,180.22 402,183.11 402.2,186 402.5,189.86 402.6,191.14 402.9,195 403,196.33 403.4,201.67 403.5,203 403.7,203.8 404,205 404.1,205.4 404.3,206.2 405,209 405.2,209.78 405.5,210.98 406,213.14 406.3,214.45 406.4,214.88 406.9,215.92 407,216.13 408,218 409,218.06 409.2,218.07 410,218.11 410.1,218.12 410.8,218.16 411,218.17 411.6,218.2 412,219.4 412.9,222.1 413,222.4 413.2,223 413.7,224.5 414,225.4 415,228.34 415.4,229.51 415.6,230.07 416,230.42 416.4,230.77 417,231.29 417.9,232.07 418,232.16 419,232.99 419.8,233.66 420,233.82 420.3,234.07 420.7,234.7 421,235.15 422,236.65 422.4,237.25 422.7,237.7 423,237.78 424,238.03 425,238.28 425.5,238.4 425.9,238.5 426,238.55 426.7,238.9 427,239.05 427.6,239.35 428,239.55 429,240.05 429.1,240.1 430,240.21 430.2,240.24 431,240.34 432,240.46 432.3,240.5 433,240.41 433.9,240.3 434,240.29 434.6,240.21 435,240.16 435.5,240.1 436,239.74 437,239.02 437.2,238.88 437.8,238.45 438,238.31 438.9,237.66 439,237.59 439.4,237.3 439.8,237.8 440,238.05 441,239.3 441.5,239.36 441.8,239.4 442,239.43 443,239.55 444,239.67 444.1,239.69 444.2,239.7 445,239.3 445.8,238.9 446,238.8 446.4,238.6 446.6,238.5 447,238.54 448,238.64 448.5,238.69 449,238.74 450,238.84 450.6,238.9 451,238.84 451.1,238.83 452,238.62 452.8,238.23 453,238.13 454,237.64 454.9,237.2 455,237.2 455.1,237.15 456,236.7 457,236.2 458,235.7 458.9,235.25 459,235.2 460,234.7 460.2,234.6 461,233.29 462,231.64 462.4,230.99 462.5,230.82 463,230 464,227.87 464.4,227.02 465,225.74 465.3,225.1 466,225.86 466.9,226.85 467,226.95 467.5,227.5 468,227.63 468.6,227.79 469,227.89 469.8,228.1 470,228.31 471,229.39 471.2,229.6 472,230.46 472.5,231 473,231.47 473.7,232.13 474,232.41 475,233.35 475.4,233.73 475.9,234.2 476,234.21 477,234.36 477.9,234.49 478,234.51 479,234.65 480,234.8 480.5,234.85 481,234.91 482,235.02 482.1,235.03 483,235.12 483.7,235.2 484,235.12 485,234.83 486,234.55 486.4,234.44 487,234.27 488,233.98 488.9,233.73 489,233.7 490,233.78 491,233.86 491.5,233.9 492,233.94 493,234.02 493.1,234.03 494,234.1 494.8,234.16 495,234.18 495.3,234.2 496,233.94 496.5,233.76 497,233.58 498,233.21 498.2,233.14 499,232.85 499.1,232.81 499.4,232.7 500,231.93 501,230.64 501.5,230 502,229.26 502.5,228.52 503,227.79 503.6,226.9 504,227.36 505,228.52 506,229.67 506.8,230.6 507,230.77 508,231.61 508.4,231.94 509,232.45 509.9,233.2 510,233.17 510.9,232.86 511,232.83 512,232.49 512.5,232.31 513,232.14 513.5,231.97 514,231.8 514.5,231.63 514.6,231.6 515,232.09 516,233.32 517,234.4 517.2,234.6 517.7,234.6 518,234.6 519,234.51 519.4,234.45 520,234.35 520.3,234.3 521,234.49 521.1,234.52 522,234.76 523,235.03 523.5,235.16 524,235.3 524.5,234.05 525,232.5 526,230.37 526.5,229.2 527,228 527.8,226 528,225.5 528.7,223.19 529,222.2 530,218.9 531,216.74 532,214.58 532.4,213.72 532.5,213.5 532.9,212.86 533,212.7 533.9,211.26 534,211.1 534.7,209.98 535,209.5 535.4,209.98 536,210.7 536.9,211.78 537,211.9 537.5,212.5 538,213.44 539,215.31 539.2,215.69 539.5,216.25 539.9,217 540,217.23 541,219.49 541.4,220.4 542,219.04 542.5,217.91 542.7,217.45 542.9,217 543,216.59 543.6,214.14 544,212.5 544.4,210.86 544.8,209.23 545,208.41 545.1,208 545.9,204.87 546,204.48 546.6,202.13 547,200.57 547.4,199 548,197.68 548.1,197.46 548.5,196.58 549,195.48 549.4,194.6 549.8,193.72 549.9,193.5 550,193.02 550.4,191.1 551,188.22 551.9,183.9 552,183.45 552.9,179.4 553,178.95 553.2,178.05 553.9,174.9 554,174.6 554.4,173.4 555,171.6 555.4,170.4 555.9,168.9 556,168.7 556.2,168.31 556.6,167.53 556.9,166.95 557,166.75 557.4,165.97 557.9,165 558,164.67 558.7,162.33 559,161.33 559.1,161 559.2,160.67 559.4,159.93 559.9,156.52 560,155.84 560.1,155.16 560.4,154 560.8,158.5 560.9,159.62 561,160.75 561.2,163 562,169.65 562.1,170.41 562.5,173.47 562.7,175 563,178 563.6,184 564,188 564.2,190 564.3,190.57 565,194.54 565.6,197.92 566,198.58 566.4,199.24 566.5,199.4 566.8,198.52 567,197.93 568,195 568.3,193.49 569,189.98 569.2,188.98 569.3,188.48 570,184.96 570.2,183.96 570.5,181.91 571,178.5 571.7,173.73 572,171.68 572.2,170.32 572.6,172.44 573,174.56 574,179.86 574.2,180.58 574.3,180.94 575,183.46 575.4,184.9 576,183.48 576.1,183.25 576.9,181.36 577,181.16 577.9,179.4 578,179.21 579,177.25 579.2,176.86 579.4,177.72 579.8,179.43 580,180.29 580.6,182.86 581,184.2 581.9,187.23 582,187.56 582.1,187.9 582.3,188.08 583,188.72 584,189.63 584.2,189.82 584.4,190 584.5,190.2 585,191.2 586,194.46 586.9,197.4 587,197.82 587.5,199.9 588,201.98 588.7,204.9 589,205.12 590,205.84 590.6,206.27 591,206.56 591.2,206.7 592,206.97 592.5,207.14 593,207.32 593.1,207.35 594,207.66 595,208 595.6,208.31 596,208.51 597,209.03 597.4,209.23 598,209.54 598.1,209.59 598.7,209.9 599,209.98 600,210.2 600.5,210.3 601,211.94 601.8,214.33 602,214.92 602.4,216.1 603,215.93 603.7,215.74 604,215.65 604.9,215.4 605,215.35 605.5,215.11 606,214.86 606.1,214.82 607,214.38 607.4,214.18 608,213.89 608.6,213.6 609,213.46 609.9,213.16 610,213.12 611,212.78 611.1,212.74 612,212.44 612.4,212.3 613,212.44 614,212.66 614.2,212.71 614.9,212.86 615,212.89 615.5,213 616,213.19 616.1,213.23 617,213.58 617.3,213.7 618,213.97 618.6,214.2 619,214.26 619.8,214.39 620,214.43 621,214.59 621.1,214.61 622,214.75 622.3,214.8 623,214.63 623.6,214.49 624,214.39 624.8,213.75 625,213.49 625.4,212.98 626,212.19 626.7,211.1 627,211.04 627.9,210.87 628,210.85 629,210.65 629.8,210.5 630,210.42 630.2,210.33 631,210 632,209.58 632.9,209.2 633,209.23 633.1,209.27 633.5,209.4 633.7,209.47 634,209.57 635,209.9 636,210.57 636.8,211.1 637,211.26 637.5,211.65 638,212.04 639,212.82 640,213.5 641,214.54 642,215.58 642.4,216 643,216.8 644,218.13 644.3,218.53 644.7,216.6 645,215.1 646,212.88 646.2,212.43 647,210.66 647.7,209.1 648,209.24 648.7,209.58 649,209.73 649.7,210.06 650,210.21 650.4,210.4 650.5,210.3 651,209.78 651.7,209.05 652,208.74 652.4,208.32 653,207.7 654,206.75 654.3,206.46 655,205.8 655.1,205.7 655.5,204.64 656,203.32 656.7,201.46 657,200.67 657.1,200.4 658,201.78 658.4,202.4 658.6,202.53 659,202.79 659.8,203.31 660,203.44 660.4,203.7 661,203.47 661.1,203.43 662,203.09 663,202.71 663.8,202.4 664,202.32 664.8,202.02 665,201.95 665.1,201.91 666,201.57 667,201.19 667.3,201.08 668,200.82 669,200.44 669.1,200.4 669.8,201.31 670,201.57 671,202.87 671.1,203 671.7,206.46 672,208.19 673,213.95 673.2,215.09 673.5,215.83 674,217.06 675,219.4 675.2,219.8 675.4,220.11 675.8,220.72 676,221.03 676.5,221.8 676.6,222.04 677,223 677,245.6"/>
<polygon fill="#e6cf2f" points="112,245.6 112,237.3 112.1,237.3 113,236.83 114,236.32 114.3,236.16 115,235.8 116,234.15 116.7,233 116.8,233 117,233 118,233 118.4,233 119,233.12 119.7,233.25 120,233.31 121,233.5 121.9,233.67 122,233.69 123,233.87 123.7,234 124,234.62 124.5,235.65 125,236.68 125.4,237.5 126,238.77 126.7,239.9 127,240.27 128,242 128.5,241.75 129,241.5 130,241.42 130.6,241.4 130.8,241.33 131,241.25 132,240.88 132.9,240.55 133,240.51 134,240.14 134.1,240.1 135,240.2 136,240.32 137,240.43 137.6,240.5 138,240.56 139,240.71 139.3,240.75 140,240.85 141,241 142,240.5 142.6,240.2 143,240 144,239.5 144.2,239.4 145,238.4 145.6,237.65 146,237.15 147,235.9 147.4,235.4 148,234.57 148.1,234.43 149,233.17 149.7,232.2 149.8,232.17 150,232.11 151,231.83 152,231.54 152.4,231.43 152.5,231.4 153,231.76 154,232.47 155,233.19 155.3,233.4 155.8,233.53 156,233.57 157,233.82 158,234.07 158.5,234.2 159,234.2 159.1,234.2 160,234.2 161,234.2 161.7,234.2 162,233.94 163,233.09 164,232.23 164.2,232.06 164.5,231.8 165,231.6 166,231.2 166.5,231 166.8,230.96 167,230.93 167.6,230.84 168,230.79 169,230.64 169.3,230.6 169.8,230.9 170,231.02 171,231.62 171.3,231.8 172,233.08 172.3,233.63 173,234.92 173.7,236.2 174,236.56 174.4,237.05 175,237.78 176,238.99 176.1,239.11 177,240.2 178,239.34 178.4,239 178.6,238.77 179,238.31 180,237.17 181,236.03 181.2,235.8 181.5,236.4 182,237.4 183,239.4 183.2,239.8 183.7,240.05 184,240.2 185,240.7 185.4,240.9 185.6,241 186,240.77 187,240.2 187.9,239.69 188,239.63 188.4,239.4 189,239.58 190,239.87 191,240.17 191.1,240.2 191.3,240.24 192,240.38 193,240.58 193.1,240.6 194,238.08 195,235.28 195.1,235 195.5,234.73 196,234.4 196.9,233.8 197,233.93 198,235.2 198.1,235.33 199,236.47 199.1,236.6 200,237.5 200.6,238.1 201,238.5 201.8,239.3 202,239.5 202.3,239.8 203,239.97 204,240.22 204.7,240.4 205,240.47 205.5,240.6 206,240.04 206.1,239.93 207,238.91 207.5,238.35 208,237.79 208.7,237 209,236.9 209.3,236.8 210,236.57 210.9,236.27 211,236.23 211.1,236.2 212,234.4 213,232.4 213.3,231.8 214,232.95 215,234.6 216,236.2 216.3,235.98 217,235.39 218,234.43 218.4,234.05 218.5,233.95 219,233.9 220,233.81 220.9,233.72 221,233.71 222,233.6 222.4,233.55 223,233.48 223.4,233.43 223.7,233.4 224,233.45 224.2,233.48 225,233.6 226,233.75 226.3,233.8 226.4,233.82 227,233.9 227.2,233.92 228,233.98 228.8,234.04 228.9,234.05 229,234.01 229.8,233.66 230,233.58 231,233.15 231.5,232.94 232,232.69 232.4,232.5 232.7,232.35 233,232.2 234,231.7 235,231.2 235.2,231.32 236,231.82 236.3,232 236.9,234.52 237,234.93 237.6,237.35 238,237.38 238.6,237.42 239,237.45 240,237.5 241,237.5 241.1,237.5 241.2,237.44 242,236.93 243,236.3 243.7,235.82 244,235.61 244.6,235.2 245,235.05 245.4,235.05 246,235.05 247,235.05 247.1,235.05 247.2,235.05 248,235.05 248.4,235.05 248.9,231.36 249,230.59 249.6,225.98 250,222.9 250.6,219.32 251,216.96 251.7,212.8 252,212.16 252.1,211.84 252.3,210.8 252.8,210.53 253,210.42 253.1,210.36 253.4,210.2 253.8,211.66 253.9,212.02 254,212.39 254.5,214.21 255,216.04 255.1,216.4 255.6,218.5 256,220.08 256.2,220.9 256.9,221.25 257,221.3 257.3,221.45 258,221.8 258.4,222 259,221.89 259.5,221.81 260,221.72 260.6,221.61 261,221.54 261.8,221.4 262,221.45 262.9,221.7 263,221.73 263.1,221.75 263.5,221.86 264,222 265,224.29 265.1,224.52 265.7,225.47 266,225.37 266.3,225.28 266.5,225.21 267,225.05 267.4,224.92 268,224.66 268.2,224.57 268.5,224.44 269,224.2 269.9,223.77 270,223.72 270.2,223.62 270.7,223.52 271,223.56 271.8,223.66 272,223.68 272.5,223.74 273,223.81 273.5,223.91 274,224.08 274.6,224.29 274.7,224.33 275,224.44 275.2,224.5 275.8,225.2 276,225.53 276.3,226.04 276.7,226.69 277,227.15 277.4,227.77 278,228.7 278.6,229.43 279,229.91 279.2,230.16 279.7,230.76 280,231.13 280.8,232.1 281,232.2 281.8,232.58 282,232.68 283,233.17 284,233.65 284.1,233.7 284.3,233.76 285,233.97 286,234.27 286.8,234.51 287,234.57 287.5,234.71 288,234.72 288.1,234.72 289,234.35 289.4,234.19 289.7,234.03 290,233.73 290.3,233.41 291,232.25 291.1,232.09 291.4,231.59 292,229.44 292.8,226.28 293,225.49 293.1,225.1 293.7,222.35 294,220.97 294.2,219.63 294.5,217 294.8,214.3 295,208.9 295.3,207.36 296,204.71 296.1,204.33 296.6,202.44 296.9,201.05 297,201.07 297.25,201.13 297.6,201.2 297.8,201.25 298,201.29 298.15,201.3 298.2,201.3 298.5,201.64 299,202.46 299.3,202.95 299.5,203.27 300,204.09 300.2,204.42 300.3,204.58 301,205.71 301.5,206.5 302,206.67 302.1,206.7 303,206.93 304,207.18 305,207.43 305.3,207.5 306,208.28 306.3,208.62 307,209.4 307.3,209.73 307.9,210.4 308,210.68 309,213.53 309.7,215.52 310,216.38 310.5,217.8 311,218.01 311.4,218.17 311.8,218.33 312,218.42 313,218.83 313.1,218.87 314,219.17 314.4,219.3 315,219.54 315.6,219.78 316,219.9 316.3,219.99 317,220.21 317.6,220.4 318,221.29 318.1,221.51 318.9,223.28 319,223.51 319.5,224.62 320,225.72 320.2,226.17 320.8,227.5 321,227.7 321.5,228.2 322,228.7 323,229.7 323.2,229.9 324,230.7 324.7,231.4 325,231.49 325.1,231.52 326,231.78 327,232.06 327.3,232.15 328,232.35 329,232.64 329.2,232.7 329.9,232.15 330,232.07 331,231.28 331.4,230.97 332,230.49 332.5,230.1 332.6,229.76 333,228.38 333.8,225.63 334,224.94 334.4,223.57 335,221.71 335.7,219.3 335.9,218.5 336,218.1 337,213.9 337.5,211.78 337.6,211.36 338,209.67 338.3,208.4 339,208.75 340,209.25 340.4,209.45 340.9,209.7 341,208.4 341.5,208.73 342,209.07 343,209.73 344,210.4 344.3,210.5 345,210.73 345.6,210.93 346,211.07 347,211.4 347.5,211.57 347.7,211.63 348,211.73 348.4,211.87 349,212.07 349.4,212.2 350,212.4 351,214.4 351.5,215.4 351.9,217.53 352,218.07 353,223.35 353.6,225.3 353.8,225.95 354,226.6 355,229.85 356,230.84 356.2,231.04 357,231.83 357.8,232.61 358,232.8 359,232.54 359.1,232.51 360,232.23 360.4,232.1 361,231.9 362,228.65 362.9,225.73 363,225.4 364,221.15 364.5,219.03 365,216.9 365.5,215.83 366,214.77 367,212.63 367.1,212.42 368,210.5 368.8,211.75 369,212.06 369.7,213.15 369.9,213.46 370,213.62 370.5,214.4 371,213.08 371.4,212.03 372,210.45 372.2,209.92 372.6,208.87 373,207.82 373.5,206 374,208.08 375,211.84 375.3,212.91 376,215.4 376.7,217.5 377,218.4 378,221.4 378.4,222.6 379,224.4 379.5,225.15 380,225.9 380.6,226.8 381,227.35 381.2,222.64 381.3,220.26 381.5,215.5 382,217.8 382.5,200.5 382.9,184.73 383,180.79 383.2,172.9 383.8,152.9 384,159.57 384.3,169.57 384.4,172.9 384.7,184.15 385,195.4 385.2,202.9 385.3,208.1 386,218.66 386.2,222.6 386.8,223.83 387,224.24 387.4,225.07 387.9,226.09 388,226.3 388.2,225.52 388.6,223.96 389,222.41 389.9,218.9 390,216.8 390.1,214.7 390.6,204.2 390.8,200 390.9,197.9 391,195.68 391.3,189.01 391.4,186.79 391.7,180.12 391.8,177.9 392,169.9 392.2,161.9 392.3,157.9 392.6,143.9 392.8,123.3 393,117.94 393.05,116.6 393.3,100.5 393.8,108.44 393.95,110.82 394,111.61 394.3,116.38 394.4,117.96 394.8,124.31 394.9,125.9 395,127.67 395.4,134.73 395.5,136.5 395.7,139.27 395.9,142.03 396,143.42 396.1,144.8 396.3,146.07 396.4,146.7 396.8,149.23 397,150.5 397.4,151.64 398,153.35 398.5,154.77 398.7,155.34 399,156.19 399.6,157.9 399.9,161.16 400,162.25 400.2,164.43 400.4,166.6 400.9,170.43 401,171.2 401.2,172.73 401.3,173.5 401.8,180.72 402,183.61 402.2,186.5 402.5,190.36 402.6,191.64 402.9,195.5 403,196.83 403.4,202.17 403.5,203.5 403.7,204.3 404,205.5 404.1,205.9 404.3,206.7 405,209.5 405.2,210.28 405.5,211.48 406,213.64 406.3,214.95 406.4,215.38 406.9,216.42 407,216.63 408,218.5 409,218.56 409.2,218.57 410,218.61 410.1,218.62 410.8,218.66 411,218.67 411.6,218.7 412,219.9 412.9,222.6 413,222.9 413.2,223.5 413.7,225 414,225.9 415,228.84 415.4,230.01 415.6,230.57 416,230.92 416.4,231.27 417,231.79 417.9,232.57 418,232.66 419,233.49 419.8,234.16 420,234.32 420.3,234.57 420.7,235.2 421,235.65 422,237.15 422.4,237.75 422.7,238.2 423,238.28 424,238.53 425,238.78 425.5,238.9 425.9,239 426,239.05 426.7,239.4 427,239.55 427.6,239.85 428,240.05 429,240.55 429.1,240.6 430,240.71 430.2,240.74 431,240.84 432,240.96 432.3,241 433,240.91 433.9,240.8 434,240.79 434.6,240.71 435,240.66 435.5,240.6 436,240.24 437,239.52 437.2,239.38 437.8,238.95 438,238.81 438.9,238.16 439,238.09 439.4,237.8 439.8,238.3 440,238.55 441,239.8 441.5,239.86 441.8,239.9 442,239.93 443,240.05 444,240.17 444.1,240.19 444.2,240.2 445,239.8 445.8,239.4 446,239.3 446.4,239.1 446.6,239 447,239.04 448,239.14 448.5,239.19 449,239.24 450,239.34 450.6,239.4 451,239.34 451.1,239.33 452,239.12 452.8,238.73 453,238.63 454,238.14 454.9,237.7 455,237.7 455.1,237.65 456,237.2 457,236.7 458,236.2 458.9,235.75 459,235.7 460,235.2 460.2,235.1 461,233.79 462,232.14 462.4,231.49 462.5,231.32 463,230.5 464,228.37 464.4,227.52 465,226.24 465.3,225.6 466,226.36 466.9,227.35 467,227.45 467.5,228 468,228.13 468.6,228.29 469,228.39 469.8,228.6 470,228.81 471,229.89 471.2,230.1 472,230.96 472.5,231.5 473,231.97 473.7,232.63 474,232.91 475,233.85 475.4,234.23 475.9,234.7 476,234.71 477,234.86 477.9,234.99 478,235.01 479,235.15 480,235.3 480.5,235.35 481,235.41 482,235.52 482.1,235.53 483,235.62 483.7,235.7 484,235.62 485,235.33 486,235.05 486.4,234.94 487,234.77 488,234.48 488.9,234.23 489,234.2 490,234.28 491,234.36 491.5,234.4 492,234.44 493,234.52 493.1,234.53 494,234.6 494.8,234.66 495,234.68 495.3,234.7 496,234.44 496.5,234.26 497,234.08 498,233.71 498.2,233.64 499,233.35 499.1,233.31 499.4,233.2 500,232.43 501,231.14 501.5,230.5 502,229.76 502.5,229.02 503,228.29 503.6,227.4 504,227.86 505,229.02 506,230.17 506.8,231.1 507,231.27 508,232.11 508.4,232.44 509,232.95 509.9,233.7 510,233.67 510.9,233.36 511,233.33 512,232.99 512.5,232.81 513,232.64 513.5,232.47 514,232.3 514.5,232.13 514.6,232.1 515,232.59 516,233.82 517,234.9 517.2,235.1 517.7,235.1 518,235.1 519,235.01 519.4,234.95 520,234.85 520.3,234.8 521,234.99 521.1,235.02 522,235.26 523,235.53 523.5,235.66 524,235.8 524.5,234.55 525,233 526,230.87 526.5,229.7 527,228.5 527.8,226.5 528,226 528.7,223.69 529,222.7 530,219.4 531,217.24 532,215.08 532.4,214.22 532.5,214 532.9,213.36 533,213.2 533.9,211.76 534,211.6 534.7,210.48 535,210 535.4,210.48 536,211.2 536.9,212.28 537,212.4 537.5,213 538,213.94 539,215.81 539.2,216.19 539.5,216.75 539.9,217.5 540,217.73 541,219.99 541.4,220.9 542,219.54 542.5,218.41 542.7,217.95 542.9,217.5 543,217.09 543.6,214.64 544,213 544.4,211.36 544.8,209.73 545,208.91 545.1,208.5 545.9,205.37 546,204.98 546.6,202.63 547,201.07 547.4,199.5 548,198.18 548.1,197.96 548.5,197.08 549,195.98 549.4,195.1 549.8,194.22 549.9,194 550,193.52 550.4,191.6 551,188.72 551.9,184.4 552,183.95 552.9,179.9 553,179.45 553.2,178.55 553.9,175.4 554,175.1 554.4,173.9 555,172.1 555.4,170.9 555.9,169.4 556,169.2 556.2,168.81 556.6,168.03 556.9,167.45 557,167.25 557.4,166.47 557.9,165.5 558,165.17 558.7,162.83 559,161.83 559.1,161.5 559.2,161.17 559.4,160.43 559.9,157.02 560,156.34 560.1,155.66 560.4,154.5 560.8,159 560.9,160.12 561,161.25 561.2,163.5 562,170.15 562.1,170.91 562.5,173.97 562.7,175.5 563,178.5 563.6,184.5 564,188.5 564.2,190.5 564.3,191.07 565,195.04 565.6,198.42 566,199.08 566.4,199.74 566.5,199.9 566.8,199.02 567,198.43 568,195.5 568.3,193.99 569,190.48 569.2,189.48 569.3,188.98 570,185.46 570.2,184.46 570.5,182.41 571,179 571.7,174.23 572,172.18 572.2,170.82 572.6,172.94 573,175.06 574,180.36 574.2,181.08 574.3,181.44 575,183.96 575.4,185.4 576,183.98 576.1,183.75 576.9,181.86 577,181.66 577.9,179.9 578,179.71 579,177.75 579.2,177.36 579.4,178.22 579.8,179.93 580,180.79 580.6,183.36 581,184.7 581.9,187.73 582,188.06 582.1,188.4 582.3,188.58 583,189.22 584,190.13 584.2,190.32 584.4,190.5 584.5,190.7 585,191.7 586,194.96 586.9,197.9 587,198.32 587.5,200.4 588,202.48 588.7,205.4 589,205.62 590,206.34 590.6,206.77 591,207.06 591.2,207.2 592,207.47 592.5,207.64 593,207.82 593.1,207.85 594,208.16 595,208.5 595.6,208.81 596,209.01 597,209.53 597.4,209.73 598,210.04 598.1,210.09 598.7,210.4 599,210.48 600,210.7 600.5,210.8 601,212.44 601.8,214.83 602,215.42 602.4,216.6 603,216.43 603.7,216.24 604,216.15 604.9,215.9 605,215.85 605.5,215.61 606,215.36 606.1,215.32 607,214.88 607.4,214.68 608,214.39 608.6,214.1 609,213.96 609.9,213.66 610,213.62 611,213.28 611.1,213.24 612,212.94 612.4,212.8 613,212.94 614,213.16 614.2,213.21 614.9,213.36 615,213.39 615.5,213.5 616,213.69 616.1,213.73 617,214.08 617.3,214.2 618,214.47 618.6,214.7 619,214.76 619.8,214.89 620,214.93 621,215.09 621.1,215.11 622,215.25 622.3,215.3 623,215.13 623.6,214.99 624,214.89 624.8,214.25 625,213.99 625.4,213.48 626,212.69 626.7,211.6 627,211.54 627.9,211.37 628,211.35 629,211.15 629.8,211 630,210.92 630.2,210.83 631,210.5 632,210.08 632.9,209.7 633,209.73 633.1,209.77 633.5,209.9 633.7,209.97 634,210.07 635,210.4 636,211.07 636.8,211.6 637,211.76 637.5,212.15 638,212.54 639,213.32 640,214 641,215.04 642,216.08 642.4,216.5 643,217.3 644,218.63 644.3,219.03 644.7,217.1 645,215.6 646,213.38 646.2,212.93 647,211.16 647.7,209.6 648,209.74 648.7,210.08 649,210.23 649.7,210.56 650,210.71 650.4,210.9 650.5,210.8 651,210.28 651.7,209.55 652,209.24 652.4,208.82 653,208.2 654,207.25 654.3,206.96 655,206.3 655.1,206.2 655.5,205.14 656,203.82 656.7,201.96 657,201.17 657.1,200.9 658,202.28 658.4,202.9 658.6,203.03 659,203.29 659.8,203.81 660,203.94 660.4,204.2 661,203.97 661.1,203.93 662,203.59 663,203.21 663.8,202.9 664,202.82 664.8,202.52 665,202.45 665.1,202.41 666,202.07 667,201.69 667.3,201.58 668,201.32 669,200.94 669.1,200.9 669.8,201.81 670,202.07 671,203.37 671.1,203.5 671.7,206.96 672,208.69 673,214.45 673.2,215.59 673.5,216.33 674,217.56 675,219.9 675.2,220.3 675.4,220.61 675.8,221.22 676,221.53 676.5,222.3 676.6,222.54 677,223.5 677,245.6"/>
<polygon fill="#c86350" points="112,245.6 112,238.5 112.1,238.5 113,237.96 114,237.36 114.3,237.18 115,236.76 116,235.54 116.7,234.68 116.8,234.68 117,234.68 118,234.68 118.4,234.68 119,234.8 119.7,234.93 120,234.99 121,235.18 121.9,235.36 122,235.38 123,235.58 123.7,235.72 124,236.2 124.5,236.99 125,237.78 125.4,238.42 126,239.48 126.7,240.4 127,240.77 128,242 128.5,241.98 129,241.96 130,241.92 130.6,241.9 130.8,241.83 131,241.75 132,241.38 132.9,241.05 133,241.01 134,240.64 134.1,240.6 135,240.7 136,240.82 137,240.93 137.6,241 138,241.06 139,241.21 139.3,241.25 140,241.35 141,241.5 142,241 142.6,240.7 143,240.5 144,240 144.2,239.9 145,238.9 145.6,238.15 146,237.65 147,236.4 147.4,235.9 148,235.07 148.1,234.93 149,233.67 149.7,232.7 149.8,232.67 150,232.61 151,232.33 152,232.04 152.4,231.93 152.5,231.9 153,232.26 154,232.97 155,233.69 155.3,233.9 155.8,234.03 156,234.07 157,234.32 158,234.57 158.5,234.7 159,234.7 159.1,234.7 160,234.7 161,234.7 161.7,234.7 162,234.44 163,233.59 164,232.73 164.2,232.56 164.5,232.3 165,232.1 166,231.7 166.5,231.5 166.8,231.46 167,231.43 167.6,231.34 168,231.29 169,231.14 169.3,231.1 169.8,231.4 170,231.52 171,232.12 171.3,232.3 172,233.58 172.3,234.13 173,235.42 173.7,236.7 174,237.06 174.4,237.55 175,238.28 176,239.49 176.1,239.61 177,240.7 178,239.84 178.4,239.5 178.6,239.27 179,238.81 180,237.67 181,236.53 181.2,236.3 181.5,236.9 182,237.9 183,239.9 183.2,240.3 183.7,240.55 184,240.7 185,241.2 185.4,241.4 185.6,241.5 186,241.27 187,240.7 187.9,240.19 188,240.13 188.4,239.9 189,240.08 190,240.37 191,240.67 191.1,240.7 191.3,240.74 192,240.88 193,241.08 193.1,241.1 194,238.58 195,235.78 195.1,235.5 195.5,235.23 196,234.9 196.9,234.3 197,234.43 198,235.7 198.1,235.83 199,236.97 199.1,237.1 200,238 200.6,238.6 201,239 201.8,239.8 202,240 202.3,240.3 203,240.47 204,240.72 204.7,240.9 205,240.97 205.5,241.1 206,240.54 206.1,240.43 207,239.41 207.5,238.85 208,238.29 208.7,237.5 209,237.4 209.3,237.3 210,237.07 210.9,236.77 211,236.73 211.1,236.7 212,234.9 213,232.9 213.3,232.3 214,233.45 215,235.1 216,236.7 216.3,236.48 217,235.98 218,235.26 218.4,234.97 218.5,234.9 219,234.86 220,234.78 220.9,234.72 221,234.71 222,234.61 222.4,234.57 223,234.52 223.4,234.48 223.7,234.45 224,234.5 224.2,234.53 225,234.65 226,234.8 226.3,234.85 226.4,234.86 227,234.9 227.2,234.9 228,234.9 228.8,234.9 228.9,234.9 229,234.86 229.8,234.57 230,234.49 231,234.12 231.5,233.93 232,233.72 232.4,233.55 232.7,233.4 233,233.25 234,232.75 235,232.25 235.2,232.38 236,232.9 236.3,233.1 236.9,235.42 237,235.78 237.6,238 238,238 238.6,238 239,238 240,238 241,238 241.1,238 241.2,237.94 242,237.43 243,236.81 243.7,236.37 244,236.18 244.6,235.8 245,235.9 245.4,235.9 246,235.9 247,235.9 247.1,235.9 247.2,235.9 248,235.9 248.4,235.9 248.9,232.35 249,231.62 249.6,227.18 250,224.23 250.6,220.3 251,218.07 251.7,214.14 252,212.89 252.1,212.36 252.3,211.3 252.8,211.03 253,210.92 253.1,210.86 253.4,210.7 253.8,212.16 253.9,212.52 254,212.89 254.5,214.71 255,216.54 255.1,216.9 255.6,218.95 256,220.58 256.2,221.4 256.9,221.75 257,221.8 257.3,221.95 258,222.3 258.4,222.5 259,222.39 259.5,222.31 260,222.22 260.6,222.11 261,222.04 261.8,221.9 262,221.95 262.9,222.2 263,222.23 263.1,222.25 263.5,222.36 264,222.5 265,224.79 265.1,225.02 265.7,226.4 266,226.28 266.3,226.16 266.5,226.09 267,225.89 267.4,225.73 268,225.5 268.2,225.42 268.5,225.3 269,225.05 269.9,224.6 270,224.55 270.2,224.45 270.7,224.2 271,224.25 271.8,224.4 272,224.43 272.5,224.52 273,224.61 273.5,224.7 274,224.94 274.6,225.23 274.7,225.27 275,225.42 275.2,225.51 275.8,225.8 276,226.11 276.3,226.57 276.7,227.19 277,227.65 277.4,228.27 278,229.2 278.6,229.93 279,230.41 279.2,230.66 279.7,231.26 280,231.63 280.8,232.6 281,232.7 281.8,233.08 282,233.18 283,233.67 284,234.15 284.1,234.2 284.3,234.26 285,234.47 286,234.77 286.8,235.01 287,235.07 287.5,235.22 288,235.37 288.1,235.4 289,234.91 289.4,234.69 289.7,234.53 290,234.36 290.3,234.2 291,233.05 291.1,232.88 291.4,232.39 292,230.92 292.8,227.76 293,226.98 293.1,226.58 293.7,224.02 294,221.99 294.2,220.2 294.5,217.5 294.8,214.8 295,211.25 295.3,209.8 296,206.41 296.1,205.92 296.6,203.5 296.9,201.8 297,201.84 297.25,201.95 297.6,202.11 297.8,202.19 298,202.28 298.15,202.32 298.2,202.33 298.5,202.5 299,203.35 299.3,203.86 299.5,204.2 300,205.05 300.2,205.39 300.3,205.56 301,206.73 301.5,207.55 302,207.68 302.1,207.69 303,207.84 304,207.99 305,208.15 305.3,208.2 306,209.06 306.3,209.43 307,210.29 307.3,210.66 307.9,211.4 308,211.67 309,214.4 309.7,216.32 310,217.13 310.5,218.5 311,218.67 311.4,218.8 311.8,218.93 312,219 313,219.33 313.1,219.37 314,219.67 314.4,219.8 315,220.04 315.6,220.29 316,220.45 316.3,220.57 317,220.86 317.6,221.1 318,221.99 318.1,222.21 318.9,223.98 319,224.21 319.5,225.32 320,226.42 320.2,226.87 320.8,228.2 321,228.4 321.5,228.9 322,229.4 323,230.4 323.2,230.6 324,231.4 324.7,232.1 325,232.19 325.1,232.22 326,232.48 327,232.76 327.3,232.85 328,233.05 329,233.34 329.2,233.4 329.9,232.85 330,232.77 331,231.98 331.4,231.67 332,231.19 332.5,230.8 332.6,230.46 333,229.08 333.8,226.33 334,225.64 334.4,224.27 335,222.21 335.7,219.8 335.9,219 336,218.6 337,214.51 337.5,212.47 337.6,212.07 338,210.43 338.3,209.21 339,209.51 340,209.94 340.4,210.11 340.9,210.33 341,209.75 341.5,210.01 342,210.27 343,210.78 344,211.3 344.3,211.4 345,211.63 345.6,211.83 346,211.97 347,212.3 347.5,212.49 347.7,212.57 348,212.68 348.4,212.84 349,213.07 349.4,213.22 350,213.45 351,215.25 351.5,216.15 351.9,218.2 352,218.72 353,223.85 353.6,225.8 353.8,226.45 354,227.1 355,230.35 356,231.34 356.2,231.54 357,232.33 357.8,233.11 358,233.3 359,233.04 359.1,233.01 360,232.75 360.4,232.64 361,232.47 362,229.39 362.9,226.61 363,226.3 364,222.28 364.5,220.26 365,218.25 365.5,217.18 366,216.11 367,213.96 367.1,213.75 368,211.82 368.8,213.13 369,213.45 369.7,214.59 369.9,214.92 370,215.08 370.5,215.9 371,214.38 371.4,213.17 372,211.35 372.2,210.74 372.6,209.53 373,208.32 373.5,206.5 374,208.58 375,212.41 375.3,213.53 376,216.15 376.7,218.25 377,219.15 378,222.15 378.4,223.35 379,225.15 379.5,225.83 380,226.5 380.6,227.31 381,227.85 381.2,223.98 381.3,222.04 381.5,218.17 382,218.8 382.5,201.5 382.9,185.73 383,181.79 383.2,173.9 383.8,153.9 384,160.57 384.3,170.57 384.4,173.9 384.7,185.15 385,196.4 385.2,203.9 385.3,208.1 386,219.66 386.2,223.6 386.8,224.83 387,225.24 387.4,226.07 387.9,227.09 388,227.3 388.2,226.52 388.6,224.96 389,223.41 389.9,219.9 390,217.8 390.1,215.7 390.6,205.2 390.8,201 390.9,198.9 391,196.68 391.3,190.01 391.4,187.79 391.7,181.12 391.8,178.9 392,170.9 392.2,162.9 392.3,158.9 392.6,144.9 392.8,124.3 393,118.94 393.05,117.6 393.3,102.8 393.8,111.83 393.95,114.26 394,115.07 394.3,119.93 394.4,121.55 394.8,128.31 394.9,129.77 395,131.38 395.4,137.81 395.5,139.41 395.7,142.01 395.9,144.53 396,145.8 396.1,147.06 396.3,148.38 396.4,149.04 396.8,151.68 397,153 397.4,154.53 398,156.53 398.5,158.2 398.7,158.87 399,160.19 399.6,162.84 399.9,166.09 400,167.1 400.2,169.12 400.4,171.15 400.9,174.92 401,175.68 401.2,177.19 401.3,177.94 401.8,184.39 402,186.97 402.2,189.55 402.5,193.05 402.6,194.14 402.9,197.42 403,198.56 403.4,203.09 403.5,204.22 403.7,204.99 404,206.15 404.1,206.53 404.3,207.31 405,210.01 405.2,210.78 405.5,211.98 406,214.14 406.3,215.45 406.4,215.88 406.9,216.92 407,217.5 408,219.72 409,219.86 409.2,219.88 410,219.99 410.1,220 410.8,220.1 411,220.12 411.6,220.2 412,221.28 412.9,223.71 413,223.98 413.2,224.51 413.7,225.86 414,226.67 415,229.45 415.4,230.57 415.6,231.1 416,231.45 416.4,231.8 417,232.32 417.9,233.1 418,233.18 419,234.02 419.8,234.68 420,234.85 420.3,235.1 420.7,235.7 421,236.15 422,237.65 422.4,238.25 422.7,238.7 423,238.78 424,239.03 425,239.28 425.5,239.4 425.9,239.5 426,239.55 426.7,239.9 427,240.05 427.6,240.35 428,240.55 429,241.05 429.1,241.1 430,241.21 430.2,241.24 431,241.34 432,241.46 432.3,241.5 433,241.41 433.9,241.3 434,241.29 434.6,241.21 435,241.16 435.5,241.1 436,240.74 437,240.02 437.2,239.88 437.8,239.45 438,239.31 438.9,238.66 439,238.59 439.4,238.3 439.8,238.8 440,239.05 441,240.3 441.5,240.36 441.8,240.4 442,240.43 443,240.55 444,240.67 444.1,240.69 444.2,240.7 445,240.3 445.8,239.9 446,239.8 446.4,239.6 446.6,239.5 447,239.54 448,239.64 448.5,239.69 449,239.74 450,239.84 450.6,239.9 451,239.84 451.1,239.83 452,239.67 452.8,239.38 453,239.31 454,238.94 454.9,238.61 455,239 455.1,238.95 456,238.54 457,238.08 458,237.62 458.9,237.2 459,237.15 460,236.69 460.2,236.6 461,235.21 462,233.48 462.4,232.79 462.5,232.62 463,231.75 464,229.53 464.4,228.65 465,227.32 465.3,226.65 466,227.64 466.9,228.9 467,229.05 467.5,229.75 468,229.97 468.6,230.23 469,230.4 469.8,230.75 470,230.95 471,231.97 471.2,232.18 472,232.99 472.5,233.5 473,233.86 473.7,234.36 474,234.58 475,235.3 475.4,235.59 475.9,235.95 476,235.96 477,236.08 477.9,236.19 478,236.21 479,236.33 480,236.45 480.5,236.48 481,236.52 482,236.59 482.1,236.59 483,236.65 483.7,236.7 484,236.62 485,236.34 486,236.07 486.4,235.96 487,235.8 488,235.52 488.9,235.28 489,235.25 490,235.34 491,235.42 491.5,235.47 492,235.51 493,235.6 493.1,235.61 494,235.69 494.8,235.76 495,235.77 495.3,235.8 496,235.54 496.5,235.35 497,235.16 498,234.78 498.2,234.7 499,234.4 499.1,234.36 499.4,234.25 500,233.61 501,232.54 501.5,232 502,231.4 502.5,230.81 503,230.21 503.6,229.5 504,229.86 505,230.77 506,231.67 506.8,232.4 507,232.57 508,233.41 508.4,233.74 509,234.25 509.9,235 510,234.97 510.9,234.67 511,234.64 512,234.31 512.5,234.14 513,233.98 513.5,233.81 514,233.65 514.5,233.48 514.6,233.45 515,233.86 516,234.88 517,235.74 517.2,235.9 517.7,235.98 518,236.03 519,236.1 519.4,236.1 520,236.1 520.3,236.1 521,236.29 521.1,236.32 522,236.56 523,236.83 523.5,236.96 524,237.1 524.5,235.45 525,233.5 526,231.37 526.5,230.2 527,229.03 527.8,227.17 528,226.7 528.7,224.46 529,223.5 530,220.3 531,218.22 532,216.14 532.4,215.31 532.5,215.1 532.9,214.46 533,214.3 533.9,212.85 534,212.69 534.7,211.56 535,211.08 535.4,211.55 536,212.25 536.9,213.3 537,213.42 537.5,214.06 538,214.97 539,216.79 539.2,217.15 539.5,217.7 539.9,218.44 540,218.66 541,220.83 541.4,221.7 542,220.57 542.5,219.63 542.7,219.1 542.9,218.57 543,218.16 543.6,215.71 544,214.09 544.4,212.46 544.8,210.84 545,210.03 545.1,209.63 545.9,206.5 546,206.11 546.6,203.8 547,202.25 547.4,200.71 548,199.22 548.1,198.97 548.5,198.05 549,196.91 549.4,196 549.8,195.08 549.9,194.85 550,194.42 550.4,192.67 551,190.05 551.9,186.12 552,185.69 552.9,181.81 553,181.38 553.2,180.52 553.9,177.5 554,177.18 554.4,175.9 555,173.98 555.4,172.7 555.9,171.1 556,170.88 556.2,170.45 556.6,169.59 556.9,168.94 557,168.72 557.4,167.86 557.9,166.78 558,166.39 558.7,163.67 559,162.51 559.1,162.12 559.2,161.73 559.4,160.93 559.9,157.52 560,156.84 560.1,156.16 560.4,155 560.8,159.5 560.9,160.62 561,161.75 561.2,164 562,170.7 562.1,171.51 562.5,174.74 562.7,176.36 563,179.3 563.6,185.17 564,189.08 564.2,191.04 564.3,191.6 565,195.54 565.6,198.92 566,199.58 566.4,200.24 566.5,200.4 566.8,199.52 567,198.93 568,196 568.3,194.49 569,190.98 569.2,189.98 569.3,189.48 570,185.96 570.2,184.96 570.5,182.91 571,179.5 571.7,174.73 572,172.68 572.2,171.32 572.6,173.44 573,175.56 574,180.86 574.2,181.58 574.3,181.94 575,184.46 575.4,185.9 576,184.48 576.1,184.25 576.9,182.36 577,182.16 577.9,180.4 578,180.21 579,178.25 579.2,177.86 579.4,178.72 579.8,180.43 580,181.29 580.6,183.86 581,185.2 581.9,188.23 582,188.56 582.1,188.9 582.3,189.08 583,189.72 584,190.63 584.2,190.82 584.4,191 584.5,191.27 585,193.27 586,196.3 586.9,199.02 587,199.44 587.5,201.52 588,203.6 588.7,206.52 589,206.7 590,207.28 590.6,207.64 591,207.87 591.2,207.99 592,208.26 592.5,208.43 593,208.61 593.1,208.64 594,208.96 595,209.31 595.6,209.59 596,209.77 597,210.24 597.4,210.42 598,210.66 598.1,210.7 598.7,210.94 599,211.01 600,211.2 600.5,211.3 601,212.96 601.8,215.45 602,216.07 602.4,217.3 603,217.12 603.7,216.9 604,216.81 604.9,216.54 605,216.49 605.5,216.27 606,216.05 606.1,216.01 607,215.63 607.4,215.46 608,215.2 608.6,214.94 609,214.81 609.9,214.51 610,214.49 611,214.27 611.1,214.24 612,214.04 612.4,213.96 613,214.04 614,214.19 614.2,214.22 614.9,214.32 615,214.35 615.5,214.46 616,214.63 616.1,214.66 617,214.97 617.3,215.07 618,215.3 618.6,215.51 619,215.58 619.8,215.74 620,215.76 621,215.86 621.1,215.87 622,215.97 622.3,216 623,215.89 623.6,215.8 624,215.55 624.8,214.75 625,214.49 625.4,213.98 626,213.2 626.7,212.47 627,212.42 627.9,212.25 628,212.24 629,212.05 629.8,211.91 630,211.84 630.2,211.78 631,211.51 632,211.19 632.9,210.89 633,210.91 633.1,210.92 633.5,210.99 633.7,211.05 634,211.16 635,211.5 636,212.06 636.8,212.51 637,212.65 637.5,213.01 638,213.37 639,214.08 640,215.1 641,216.14 642,217.18 642.4,217.6 643,218.41 644,219.76 644.3,220.16 644.7,219.63 645,217.19 646,215.24 646.2,214.85 647,213.28 647.7,211.91 648,212.05 648.7,212.39 649,212.54 649.7,212.87 650,213.02 650.4,213.21 650.5,213.09 651,212.51 651.7,211.69 652,211.35 652.4,210.88 653,210.18 654,209.23 654.3,208.94 655,208.28 655.1,208.18 655.5,207.55 656,206.76 656.7,205.66 657,205.18 657.1,205.03 658,205.52 658.4,205.74 658.6,205.77 659,205.83 659.8,205.95 660,205.97 660.4,206.02 661,205.81 661.1,205.77 662,205.46 663,205.11 663.8,204.83 664,204.75 664.8,204.45 665,204.37 665.1,204.33 666,203.99 667,203.62 667.3,203.5 668,203.24 669,202.86 669.1,202.83 669.8,204 670,204.34 671,206.03 671.1,206.19 671.7,209.23 672,210.74 673,215.8 673.2,216.8 673.5,217.4 674,218.4 675,220.4 675.2,220.8 675.4,221.11 675.8,221.72 676,222.03 676.5,222.8 676.6,223.04 677,224 677,245.6"/>
<polygon fill="#6f7f6f" points="112,245.6 112,240.3 112.1,240.3 113,239.65 114,238.92 114.3,238.71 115,238.2 116,237.61 116.7,237.2 116.8,237.2 117,237.2 118,237.2 118.4,237.2 119,237.32 119.7,237.45 120,237.51 121,237.7 121.9,237.9 122,237.92 123,238.14 123.7,238.3 124,238.56 124.5,239.01 125,239.45 125.4,239.8 126,240.54 126.7,241.4 127,241.77 128,243 128.5,242.98 129,242.96 130,242.92 130.6,242.9 130.8,242.83 131,242.75 132,242.38 132.9,242.05 133,242.01 134,241.64 134.1,241.6 135,241.7 136,241.82 137,241.93 137.6,242 138,242.06 139,242.21 139.3,242.25 140,242.35 141,242.5 142,242 142.6,241.7 143,241.5 144,241 144.2,240.9 145,239.9 145.6,239.15 146,238.65 147,237.4 147.4,236.9 148,236.07 148.1,235.93 149,234.67 149.7,233.7 149.8,233.67 150,233.61 151,233.33 152,233.04 152.4,232.93 152.5,232.9 153,233.26 154,233.97 155,234.69 155.3,234.9 155.8,235.03 156,235.07 157,235.32 158,235.57 158.5,235.7 159,235.7 159.1,235.7 160,235.7 161,235.7 161.7,235.7 162,235.44 163,234.59 164,233.73 164.2,233.56 164.5,233.3 165,233.1 166,232.7 166.5,232.5 166.8,232.46 167,232.43 167.6,232.34 168,232.29 169,232.14 169.3,232.1 169.8,232.4 170,232.52 171,233.12 171.3,233.3 172,234.58 172.3,235.13 173,236.42 173.7,237.7 174,238.06 174.4,238.55 175,239.28 176,240.49 176.1,240.61 177,241.7 178,240.84 178.4,240.5 178.6,240.27 179,239.81 180,238.67 181,237.53 181.2,237.3 181.5,237.9 182,238.9 183,240.9 183.2,241.3 183.7,241.55 184,241.7 185,242.2 185.4,242.4 185.6,242.5 186,242.27 187,241.7 187.9,241.19 188,241.13 188.4,240.9 189,241.08 190,241.37 191,241.67 191.1,241.7 191.3,241.74 192,241.88 193,242.08 193.1,242.1 194,239.58 195,236.78 195.1,236.5 195.5,236.23 196,235.9 196.9,235.3 197,235.43 198,236.7 198.1,236.83 199,237.97 199.1,238.1 200,239 200.6,239.6 201,240 201.8,240.8 202,241 202.3,241.3 203,241.47 204,241.72 204.7,241.9 205,241.97 205.5,242.1 206,241.54 206.1,241.43 207,240.41 207.5,239.85 208,239.29 208.7,238.5 209,238.4 209.3,238.3 210,238.07 210.9,237.77 211,237.73 211.1,237.7 212,235.9 213,233.9 213.3,233.3 214,234.45 215,236.1 216,237.7 216.3,237.48 217,236.98 218,236.26 218.4,235.97 218.5,235.9 219,235.86 220,235.78 220.9,235.72 221,235.71 222,235.63 222.4,235.6 223,235.55 223.4,235.52 223.7,235.5 224,235.55 224.2,235.58 225,235.7 226,235.85 226.3,235.9 226.4,235.9 227,235.9 227.2,235.9 228,235.9 228.8,235.9 228.9,235.9 229,235.86 229.8,235.57 230,235.49 231,235.12 231.5,234.93 232,234.75 232.4,234.6 232.7,234.45 233,234.3 234,233.8 235,233.3 235.2,233.44 236,233.99 236.3,234.2 236.9,236.42 237,236.78 237.6,239 238,239 238.6,239 239,239 240,239 241,239 241.1,239 241.2,238.94 242,238.43 243,237.81 243.7,237.37 244,237.18 244.6,236.8 245,236.9 245.4,236.9 246,236.9 247,236.9 247.1,236.9 247.2,236.9 248,236.9 248.4,236.9 248.9,233.35 249,232.65 249.6,228.39 250,225.55 250.6,221.3 251,219.18 251.7,215.48 252,213.89 252.1,213.36 252.3,212.3 252.8,212.03 253,211.92 253.1,211.86 253.4,211.7 253.8,213.16 253.9,213.52 254,213.89 254.5,215.71 255,217.54 255.1,217.9 255.6,219.95 256,221.58 256.2,222.4 256.9,222.75 257,222.8 257.3,222.95 258,223.3 258.4,223.5 259,223.39 259.5,223.31 260,223.22 260.6,223.11 261,223.04 261.8,222.9 262,222.95 262.9,223.2 263,223.23 263.1,223.25 263.5,223.36 264,223.5 265,225.79 265.1,226.02 265.7,227.4 266,227.28 266.3,227.16 266.5,227.09 267,226.89 267.4,226.73 268,226.5 268.2,226.42 268.5,226.3 269,226.05 269.9,225.6 270,225.55 270.2,225.45 270.7,225.2 271,225.25 271.8,225.4 272,225.43 272.5,225.52 273,225.61 273.5,225.7 274,225.94 274.6,226.23 274.7,226.27 275,226.42 275.2,226.51 275.8,226.8 276,227.11 276.3,227.57 276.7,228.19 277,228.65 277.4,229.27 278,230.2 278.6,230.93 279,231.41 279.2,231.66 279.7,232.26 280,232.63 280.8,233.6 281,233.7 281.8,234.08 282,234.18 283,234.67 284,235.15 284.1,235.2 284.3,235.26 285,235.47 286,235.77 286.8,236.01 287,236.07 287.5,236.22 288,236.37 288.1,236.4 289,235.91 289.4,235.69 289.7,235.53 290,235.36 290.3,235.2 291,234.05 291.1,233.88 291.4,233.39 292,232.4 292.8,229.25 293,228.46 293.1,228.06 293.7,225.7 294,223 294.2,221.2 294.5,218.5 294.8,215.8 295,214 295.3,212.23 296,208.11 296.1,207.52 296.6,204.57 296.9,202.8 297,202.84 297.25,202.95 297.6,203.11 297.8,203.19 298,203.28 298.15,203.35 298.2,203.37 298.5,203.5 299,204.35 299.3,204.86 299.5,205.2 300,206.05 300.2,206.39 300.3,206.56 301,207.75 301.5,208.6 302,208.68 302.1,208.69 303,208.84 304,208.99 305,209.15 305.3,209.2 306,210.06 306.3,210.43 307,211.29 307.3,211.66 307.9,212.4 308,212.67 309,215.4 309.7,217.32 310,218.13 310.5,219.5 311,219.67 311.4,219.8 311.8,219.93 312,220 313,220.33 313.1,220.37 314,220.67 314.4,220.8 315,221.04 315.6,221.29 316,221.45 316.3,221.57 317,221.86 317.6,222.1 318,222.99 318.1,223.21 318.9,224.98 319,225.21 319.5,226.32 320,227.42 320.2,227.87 320.8,229.2 321,229.4 321.5,229.9 322,230.4 323,231.4 323.2,231.6 324,232.4 324.7,233.1 325,233.19 325.1,233.22 326,233.48 327,233.76 327.3,233.85 328,234.05 329,234.34 329.2,234.4 329.9,233.85 330,233.77 331,232.98 331.4,232.67 332,232.19 332.5,231.8 332.6,231.46 333,230.08 333.8,227.33 334,226.64 334.4,225.27 335,223.21 335.7,220.8 335.9,220.05 336,219.68 337,215.95 337.5,214.08 337.6,213.71 338,212.22 338.3,211.1 339,211.29 340,211.56 340.4,211.67 340.9,211.8 341,212.9 341.5,212.98 342,213.07 343,213.23 344,213.4 344.3,213.5 345,213.73 345.6,213.93 346,214.07 347,214.4 347.5,214.65 347.7,214.75 348,214.9 348.4,215.1 349,215.4 349.4,215.6 350,215.9 351,217.23 351.5,217.9 351.9,219.77 352,220.23 353,224.9 353.6,226.85 353.8,227.5 354,228.15 355,231.4 356,232.37 356.2,232.56 357,233.33 357.8,234.11 358,234.3 359,234.13 359.1,234.12 360,233.97 360.4,233.9 361,233.8 362,231.1 362.9,228.67 363,228.4 364,224.9 364.5,223.15 365,221.4 365.5,220.32 366,219.23 367,217.07 367.1,216.85 368,214.9 368.8,216.34 369,216.7 369.7,217.96 369.9,218.32 370,218.5 370.5,219.4 371,217.42 371.4,215.83 372,213.45 372.2,212.66 372.6,211.07 373,209.48 373.5,207.5 374,209.58 375,213.74 375.3,214.99 376,217.9 376.7,220 377,220.9 378,223.9 378.4,225.1 379,226.9 379.5,227.4 380,227.9 380.6,228.5 381,228.9 381.2,227.1 381.3,226.2 381.5,224.4 382,219.9 382.5,202.6 382.9,186.83 383,182.89 383.2,175 383.8,155 384,161.67 384.3,171.67 384.4,175 384.7,186.25 385,197.5 385.2,205 385.3,208.1 386,220.76 386.2,224.7 386.8,225.93 387,226.34 387.4,227.17 387.9,228.19 388,228.4 388.2,227.62 388.6,226.06 389,224.51 389.9,221 390,218.9 390.1,216.8 390.6,206.3 390.8,202.1 390.9,200 391,197.78 391.3,191.11 391.4,188.89 391.7,182.22 391.8,180 392,172 392.2,164 392.3,160 392.6,146 392.8,125.4 393,120.04 393.05,118.7 393.3,112 393.8,125.4 393.95,128.02 394,128.9 394.3,134.15 394.4,135.9 394.8,144.3 394.9,145.27 395,146.23 395.4,150.1 395.5,151.07 395.7,153 395.9,154.54 396,155.31 396.1,156.08 396.3,157.62 396.4,158.39 396.8,161.48 397,163.02 397.4,166.1 398,169.28 398.5,171.94 398.7,173 399,176.2 399.6,182.6 399.9,185.8 400,186.51 400.2,187.92 400.4,189.34 400.9,192.88 401,193.58 401.2,195 401.3,195.68 401.8,199.06 402,200.42 402.2,201.77 402.5,203.8 402.6,204.13 402.9,205.12 403,205.45 403.4,206.77 403.5,207.1 403.7,207.76 404,208.74 404.1,209.07 404.3,209.73 405,212.04 405.2,212.7 405.5,213.88 406,215.83 406.3,217.01 406.4,217.4 406.9,218.84 407,219.13 408,222 409,222.28 409.2,222.33 410,222.56 410.1,222.58 410.8,222.78 411,222.83 411.6,223 412,223.85 412.9,225.76 413,225.97 413.2,226.4 413.7,227.46 414,228.1 415,230.6 415.4,231.6 415.6,232.1 416,232.45 416.4,232.8 417,233.32 417.9,234.1 418,234.18 419,235.02 419.8,235.68 420,235.85 420.3,236.1 420.7,236.7 421,237.15 422,238.65 422.4,239.25 422.7,239.7 423,239.78 424,240.03 425,240.28 425.5,240.4 425.9,240.5 426,240.55 426.7,240.9 427,241.05 427.6,241.35 428,241.55 429,242.05 429.1,242.1 430,242.21 430.2,242.24 431,242.34 432,242.46 432.3,242.5 433,242.41 433.9,242.3 434,242.29 434.6,242.21 435,242.16 435.5,242.1 436,241.74 437,241.02 437.2,240.88 437.8,240.45 438,240.31 438.9,239.66 439,239.59 439.4,239.3 439.8,239.8 440,240.05 441,241.3 441.5,241.36 441.8,241.4 442,241.43 443,241.55 444,241.67 444.1,241.69 444.2,241.7 445,241.3 445.8,240.9 446,240.8 446.4,240.6 446.6,240.5 447,240.54 448,240.64 448.5,240.69 449,240.74 450,240.84 450.6,240.9 451,240.84 451.1,240.83 452,240.7 452.8,240.59 453,240.57 454,240.43 454.9,240.3 455,240.3 455.1,240.26 456,239.88 457,239.45 458,239.03 458.9,238.65 459,238.61 460,238.18 460.2,238.1 461,236.64 462,234.82 462.4,234.09 462.5,233.91 463,233 464,230.7 464.4,229.77 465,228.39 465.3,227.7 466,228.91 466.9,230.46 467,230.64 467.5,231.5 468,231.8 468.6,232.17 469,232.41 469.8,232.9 470,233.09 471,234.06 471.2,234.25 472,235.02 472.5,235.5 473,235.75 473.7,236.1 474,236.25 475,236.75 475.4,236.95 475.9,237.2 476,237.21 477,237.31 477.9,237.4 478,237.4 479,237.5 480,237.6 480.5,237.61 481,237.63 482,237.65 482.1,237.66 483,237.68 483.7,237.7 484,237.62 485,237.36 486,237.09 486.4,236.99 487,236.83 488,236.56 488.9,236.33 489,236.3 490,236.4 491,236.49 491.5,236.54 492,236.59 493,236.68 493.1,236.69 494,236.78 494.8,236.85 495,236.87 495.3,236.9 496,236.63 496.5,236.43 497,236.24 498,235.85 498.2,235.77 499,235.46 499.1,235.42 499.4,235.3 500,234.79 501,233.93 501.5,233.5 502,233.05 502.5,232.6 503,232.14 503.6,231.6 504,231.86 505,232.52 506,233.17 506.8,233.7 507,233.87 508,234.71 508.4,235.04 509,235.55 509.9,236.3 510,236.27 510.9,235.98 511,235.95 512,235.63 512.5,235.47 513,235.31 513.5,235.15 514,234.99 514.5,234.83 514.6,234.8 515,235.12 516,235.93 517,236.74 517.2,236.9 517.7,236.98 518,237.03 519,237.19 519.4,237.25 520,237.35 520.3,237.4 521,237.59 521.1,237.62 522,237.86 523,238.13 523.5,238.26 524,238.4 524.5,236.45 525,234.5 526,232.83 526.5,232 527,231.17 527.8,229.83 528,229.5 528.7,227.54 529,226.7 530,223.9 531,222.14 532,220.38 532.4,219.68 532.5,219.5 532.9,218.84 533,218.68 533.9,217.2 534,217.04 534.7,215.89 535,215.4 535.4,215.82 536,216.45 536.9,217.39 537,217.5 537.5,218.3 538,219.1 539,220.7 539.2,221.02 539.5,221.5 539.9,222.22 540,222.39 541,224.18 541.4,224.9 542,224.68 542.5,224.5 542.7,223.68 542.9,222.86 543,222.45 543.6,220 544,218.43 544.4,216.87 544.8,215.3 545,214.52 545.1,214.13 545.9,211 546,210.64 546.6,208.45 547,207 547.4,205.55 548,203.36 548.1,203 548.5,201.95 549,200.63 549.4,199.58 549.8,198.53 549.9,198.26 550,198 550.4,196.95 551,195.37 551.9,193 552,192.64 552.9,189.45 553,189.09 553.2,188.38 553.9,185.9 554,185.5 554.4,183.9 555,181.5 555.4,179.9 555.9,177.9 556,177.6 556.2,177 556.6,175.8 556.9,174.9 557,174.6 557.4,173.4 557.9,171.9 558,171.29 558.7,167.04 559,165.22 559.1,164.61 559.2,164 559.4,162.67 559.9,159.33 560,158.67 560.1,158 560.4,156 560.8,160.5 560.9,161.62 561,162.75 561.2,165 562,172.89 562.1,173.88 562.5,177.83 562.7,179.8 563,182.48 563.6,187.84 564,191.41 564.2,193.2 564.3,193.73 565,197.43 565.6,200.6 566,201.22 566.4,201.84 566.5,202 566.8,201.2 567,200.67 568,198 568.3,196.47 569,192.91 569.2,191.89 569.3,191.38 570,187.82 570.2,186.8 570.5,184.67 571,181.12 571.7,176.15 572,174.02 572.2,172.6 572.6,174.76 573,176.91 574,182.3 574.2,183.04 574.3,183.41 575,186.01 575.4,187.5 576,186.02 576.1,185.77 576.9,183.8 577,183.6 577.9,181.84 578,181.65 579,179.69 579.2,179.3 579.4,180.16 579.8,181.87 580,182.73 580.6,185.3 581,186.69 581.9,189.81 582,190.15 582.1,190.5 582.3,190.72 583,191.48 584,192.57 584.2,192.78 584.4,193 584.5,193.53 585,196.2 586,198.78 586.9,201.1 587,201.52 587.5,203.6 588,205.68 588.7,208.6 589,208.7 590,209.04 590.6,209.25 591,209.39 591.2,209.46 592,209.73 592.5,209.9 593,210.08 593.1,210.12 594,210.45 595,210.82 595.6,211.04 596,211.19 597,211.55 597.4,211.7 598,211.82 598.1,211.84 598.7,211.95 599,212.01 600,212.2 600.5,212.3 601,213.96 601.8,216.61 602,217.27 602.4,218.6 603,218.39 603.7,218.14 604,218.04 604.9,217.72 605,217.69 605.5,217.51 606,217.34 606.1,217.3 607,217.02 607.4,216.89 608,216.7 608.6,216.51 609,216.38 609.9,216.1 610,216.1 611,216.1 611.1,216.1 612,216.1 612.4,216.1 613,216.1 614,216.1 614.2,216.1 614.9,216.1 615,216.12 615.5,216.25 616,216.37 616.1,216.39 617,216.61 617.3,216.69 618,216.86 618.6,217.01 619,217.1 619.8,217.3 620,217.3 621,217.3 621.1,217.3 622,217.3 622.3,217.3 623,217.3 623.6,217.3 624,216.78 624.8,215.75 625,215.49 625.4,214.98 626,214.2 626.7,214.09 627,214.04 627.9,213.9 628,213.88 629,213.73 629.8,213.6 630,213.57 630.2,213.54 631,213.41 632,213.24 632.9,213.1 633,213.08 633.1,213.06 633.5,213 633.7,213.07 634,213.18 635,213.55 636,213.91 636.8,214.2 637,214.32 637.5,214.62 638,214.91 639,215.51 640,216.1 641,217.14 642,218.18 642.4,218.6 643,219.41 644,220.76 644.3,221.16 644.7,221.7 645,218.5 646,216.76 646.2,216.41 647,215.02 647.7,213.8 648,213.94 648.7,214.28 649,214.43 649.7,214.76 650,214.91 650.4,215.1 650.5,214.97 651,214.34 651.7,213.45 652,213.07 652.4,212.56 653,211.8 654,210.85 654.3,210.56 655,209.9 655.1,209.8 655.5,209.52 656,209.17 656.7,208.68 657,208.47 657.1,208.4 658,208.17 658.4,208.06 658.6,208.01 659,207.91 659.8,207.7 660,207.63 660.4,207.5 661,207.31 661.1,207.28 662,206.98 663,206.66 663.8,206.4 664,206.32 664.8,206.02 665,205.95 665.1,205.91 666,205.57 667,205.19 667.3,205.08 668,204.82 669,204.44 669.1,204.4 669.8,205.8 670,206.2 671,208.2 671.1,208.4 671.7,211.09 672,212.43 673,216.9 673.2,217.8 673.5,218.4 674,219.4 675,221.4 675.2,221.8 675.4,222.11 675.8,222.72 676,223.03 676.5,223.8 676.6,224.04 677,225 677,245.6"/>
<polygon fill="#3b7ab5" points="112,245.6 112,241.4 112.1,241.4 113,240.75 114,240.02 114.3,239.81 115,239.3 116,239.01 116.7,238.8 116.8,238.8 117,238.8 118,238.8 118.4,238.8 119,239.01 119.7,239.25 120,239.35 121,239.7 121.9,239.83 122,239.85 123,240 123.7,240.1 124,240.33 124.5,240.71 125,241.09 125.4,241.4 126,241.82 126.7,242.3 127,242.51 128,243.2 128.5,243.2 129,243.2 130,243.2 130.6,243.2 130.8,243.15 131,243.1 132,242.84 132.9,242.61 133,242.58 134,242.33 134.1,242.3 135,242.4 136,242.52 137,242.63 137.6,242.7 138,242.79 139,243.03 139.3,243.1 140,243.26 141,243.5 142,242.75 142.6,242.3 143,242 144,241.25 144.2,241.1 145,240.1 145.6,239.35 146,238.85 147,237.6 147.4,237.1 148,236.37 148.1,236.25 149,235.15 149.7,234.3 149.8,234.29 150,234.26 151,234.11 152,233.97 152.4,233.91 152.5,233.9 153,234.11 154,234.54 155,234.97 155.3,235.1 155.8,235.35 156,235.45 157,235.95 158,236.45 158.5,236.7 159,236.64 159.1,236.62 160,236.51 161,236.39 161.7,236.3 162,236.21 163,235.93 164,235.64 164.2,235.59 164.5,235.5 165,235.4 166,235.2 166.5,235.1 166.8,235.06 167,235.03 167.6,234.94 168,234.89 169,234.74 169.3,234.7 169.8,234.8 170,234.84 171,235.04 171.3,235.1 172,235.92 172.3,236.27 173,237.08 173.7,237.9 174,238.26 174.4,238.75 175,239.48 176,240.69 176.1,240.81 177,241.9 178,242.19 178.4,242.3 178.6,242.3 179,242.3 180,242.3 181,242.3 181.2,242.3 181.5,242.3 182,242.3 183,242.3 183.2,242.3 183.7,242.47 184,242.57 185,242.9 185.4,243.03 185.6,243.1 186,243.13 187,243.2 187.9,243.27 188,243.27 188.4,243.3 189,243.35 190,243.42 191,243.49 191.1,243.5 191.3,243.5 192,243.5 193,243.5 193.1,243.5 194,243.5 195,243.5 195.1,243.5 195.5,243.46 196,243.41 196.9,243.32 197,243.31 198,243.21 198.1,243.2 199,243.11 199.1,243.1 200,243.04 200.6,243.01 201,242.98 201.8,242.93 202,242.92 202.3,242.9 203,242.86 204,242.79 204.7,242.75 205,242.73 205.5,242.7 206,242.57 206.1,242.55 207,242.32 207.5,242.2 208,242.07 208.7,241.9 209,241.95 209.3,242 210,242.12 210.9,242.27 211,242.28 211.1,242.3 212,242.46 213,242.65 213.3,242.7 214,242.6 215,242.45 216,242.3 216.3,242.25 217,242.14 218,241.98 218.4,241.92 218.5,241.9 219,241.81 220,241.64 220.9,241.48 221,241.47 222,241.29 222.4,241.22 223,241.12 223.4,241.05 223.7,241 224,241 224.2,241 225,241 226,241 226.3,241 226.4,241.05 227,241.35 227.2,241.45 228,241.85 228.8,242.25 228.9,242.3 229,242.28 229.8,242.09 230,242.05 231,241.82 231.5,241.71 232,241.59 232.4,241.5 232.7,241.44 233,241.38 234,241.19 235,241 235.2,241.17 236,241.85 236.3,242.1 236.9,242.61 237,242.69 237.6,243.2 238,243.25 238.6,243.31 239,243.36 240,243.47 241,243.59 241.1,243.6 241.2,243.53 242,242.93 243,242.19 243.7,241.67 244,241.45 244.6,241 245,240.9 245.4,240.94 246,241.01 247,241.11 247.1,241.12 247.2,241.14 248,241.22 248.4,241.26 248.9,241.32 249,241.33 249.6,241.39 250,241.44 250.6,241.5 251,241.5 251.7,241.5 252,241.5 252.1,241.5 252.3,241.5 252.8,241.5 253,241.5 253.1,241.5 253.4,241.5 253.8,241.5 253.9,241.5 254,241.5 254.5,241.5 255,241.5 255.1,241.5 255.6,241.5 256,241.5 256.2,241.5 256.9,241.43 257,241.41 257.3,241.38 258,241.31 258.4,241.26 259,241.2 259.5,241.15 260,241.09 260.6,241.03 261,240.99 261.8,240.9 262,240.9 262.9,240.9 263,240.9 263.1,240.9 263.5,240.9 264,240.9 265,240.9 265.1,240.9 265.7,240.9 266,240.9 266.3,240.9 266.5,240.9 267,240.9 267.4,240.9 268,240.75 268.2,240.7 268.5,240.62 269,240.5 269.9,240.28 270,240.25 270.2,240.2 270.7,240.08 271,240 271.8,239.8 272,239.84 272.5,239.92 273,240.01 273.5,240.1 274,240.19 274.6,240.29 274.7,240.31 275,240.36 275.2,240.4 275.8,240.7 276,240.8 276.3,240.95 276.7,241.15 277,241.3 277.4,241.5 278,241.8 278.6,242.1 279,242.1 279.2,242.1 279.7,242.1 280,242.1 280.8,242.1 281,242.1 281.8,242.1 282,242.1 283,242.1 284,242.1 284.1,242.1 284.3,242.1 285,242.1 286,242.1 286.8,242.1 287,242.1 287.5,242.1 288,242.1 288.1,242.1 289,242.1 289.4,242.1 289.7,242.1 290,242.02 290.3,241.94 291,241.76 291.1,241.73 291.4,241.66 292,241.5 292.8,240.7 293,240.5 293.1,240.4 293.7,237.35 294,235.82 294.2,234.8 294.5,229.8 294.8,225.36 295,222.4 295.3,221.66 296,219.94 296.1,219.69 296.6,218.46 296.9,217.72 297,217.48 297.25,216.86 297.6,216 297.8,216.26 298,216.53 298.15,216.72 298.2,216.79 298.5,217.18 299,217.84 299.3,218.24 299.5,218.5 300,219.75 300.2,220.25 300.3,220.5 301,222.25 301.5,223.5 302,224.75 302.1,225 303,225.53 304,226.13 305,226.72 305.3,226.9 306,228.14 306.3,228.67 307,229.91 307.3,230.44 307.9,231.5 308,231.6 309,232.57 309.7,233.25 310,233.55 310.5,234.03 311,234.52 311.4,234.91 311.8,235.3 312,235.33 313,235.49 313.1,235.5 314,235.64 314.4,235.7 315,235.8 315.6,235.89 316,235.95 316.3,236 317,236.57 317.6,237.06 318,237.38 318.1,237.46 318.9,238.11 319,238.19 319.5,238.6 320,238.72 320.2,238.78 320.8,238.93 321,238.97 321.5,239.1 322,239.22 323,239.47 323.2,239.53 324,239.72 324.7,239.9 325,239.9 325.1,239.9 326,239.9 327,239.9 327.3,239.9 328,239.9 329,239.9 329.2,239.9 329.9,239.9 330,239.88 331,239.7 331.4,239.63 332,239.52 332.5,239.43 332.6,239.42 333,239.34 333.8,239.2 334,238.93 334.4,238.39 335,237.59 335.7,236.65 335.9,236.38 336,236.25 337,234.91 337.5,234.23 337.6,234.1 338,234.1 338.3,234.1 339,234.1 340,234.1 340.4,234.1 340.9,234.1 341,234.1 341.5,234.1 342,234.27 343,234.61 344,234.96 344.3,235.06 345,235.3 345.6,235.37 346,235.42 347,235.54 347.5,235.59 347.7,235.62 348,235.65 348.4,235.7 349,236 349.4,236.2 350,236.5 351,237 351.5,237.25 351.9,237.45 352,237.5 353,238 353.6,238.3 353.8,238.4 354,238.45 355,238.69 356,238.94 356.2,238.99 357,239.18 357.8,239.38 358,239.43 359,239.68 359.1,239.7 360,239.58 360.4,239.53 361,239.45 362,239.32 362.9,239.21 363,239.19 364,239.06 364.5,239 365,239.06 365.5,239.13 366,239.19 367,239.32 367.1,239.34 368,239.45 368.8,239.56 369,239.58 369.7,239.67 369.9,239.7 370,239.8 370.5,240.3 371,240.8 371.4,241.2 372,241.8 372.2,242 372.6,242.4 373,242.35 373.5,242.28 374,242.22 375,242.09 375.3,242.05 376,241.96 376.7,241.87 377,241.83 378,241.7 378.4,241.3 379,240.7 379.5,240.2 380,239.7 380.6,239.1 381,238.7 381.2,238.5 381.3,238.4 381.5,237.63 382,235.7 382.5,236.07 382.9,236.37 383,236.44 383.2,236.59 383.8,237.03 384,237.18 384.3,237.4 384.4,237.48 384.7,237.7 385,237.62 385.2,237.57 385.3,237.54 386,237.36 386.2,237.31 386.8,237.16 387,237.1 387.4,237 387.9,235.63 388,235.36 388.2,234.81 388.6,233.71 389,232.61 389.9,230.15 390,229.87 390.1,229.6 390.6,230.07 390.8,230.25 390.9,230.34 391,230.44 391.3,230.72 391.4,230.81 391.7,231.09 391.8,231.18 392,231.37 392.2,231.56 392.3,231.65 392.6,231.93 392.8,232.11 393,232.3 393.05,232.35 393.3,232.61 393.8,233.12 393.95,233.28 394,233.33 394.3,233.64 394.4,233.74 394.8,234.15 394.9,234.26 395,234.36 395.4,234.77 395.5,234.88 395.7,235.08 395.9,235.29 396,235.39 396.1,235.49 396.3,235.7 396.4,235.72 396.8,235.82 397,235.87 397.4,235.97 398,236.11 398.5,236.24 398.7,236.28 399,236.36 399.6,236.5 399.9,236.58 400,236.6 400.2,236.8 400.4,237 400.9,237.5 401,237.6 401.2,237.8 401.3,237.9 401.8,238.4 402,238.6 402.2,238.8 402.5,239.1 402.6,239.2 402.9,239.5 403,239.6 403.4,240 403.5,240.1 403.7,240.3 404,240.43 404.1,240.48 404.3,240.57 405,240.88 405.2,240.97 405.5,241.1 406,241.32 406.3,241.46 406.4,241.5 406.9,241.55 407,241.55 408,241.65 409,241.74 409.2,241.75 410,241.83 410.1,241.84 410.8,241.9 411,241.83 411.6,241.63 412,241.5 412.9,241.2 413,241.17 413.2,241.1 413.7,241.16 414,241.2 415,241.32 415.4,241.38 415.6,241.4 416,241.45 416.4,241.5 417,241.54 417.9,241.61 418,241.61 419,241.69 419.8,241.74 420,241.76 420.3,241.78 420.7,241.81 421,241.83 422,241.9 422.4,242.04 422.7,242.14 423,242.24 424,242.58 425,242.92 425.5,243.09 425.9,243.23 426,243.26 426.7,243.5 427,243.52 427.6,243.55 428,243.57 429,243.63 429.1,243.63 430,243.68 430.2,243.69 431,243.74 432,243.79 432.3,243.81 433,243.85 433.9,243.9 434,243.89 434.6,243.86 435,243.84 435.5,243.82 436,243.79 437,243.74 437.2,243.73 437.8,243.7 438,243.69 438.9,243.65 439,243.64 439.4,243.62 439.8,243.6 440,243.59 441,243.54 441.5,243.52 441.8,243.5 442,243.46 443,243.26 444,243.06 444.1,243.04 444.2,243.02 445,242.86 445.8,242.7 446,242.69 446.4,242.67 446.6,242.66 447,242.63 448,242.58 448.5,242.55 449,242.52 450,242.47 450.6,242.44 451,242.41 451.1,242.41 452,242.36 452.8,242.32 453,242.3 454,242.25 454.9,242.2 455,241.9 455.1,241.87 456,241.57 457,241.25 458,240.92 458.9,240.62 459,240.59 460,240.27 460.2,240.2 461,238.74 462,236.91 462.4,236.18 462.5,236 463,235.04 464,233.12 464.4,232.35 465,231.2 465.3,231.62 466,232.6 466.9,233.86 467,234 467.5,234.39 468,234.79 468.6,235.26 469,235.57 469.8,236.2 470,236.33 471,237 471.2,237.13 472,237.67 472.5,238 473,238.19 473.7,238.46 474,238.57 475,238.96 475.4,239.11 475.9,239.3 476,239.31 477,239.38 477.9,239.45 478,239.45 479,239.53 480,239.6 480.5,239.61 481,239.63 482,239.65 482.1,239.66 483,239.68 483.7,239.7 484,239.69 485,239.65 486,239.61 486.4,239.6 487,239.58 488,239.54 488.9,239.5 489,239.5 490,239.42 491,239.34 491.5,239.3 492,239.26 493,239.18 493.1,239.17 494,239.1 494.8,239.04 495,239.02 495.3,239 496,238.73 496.5,238.53 497,238.34 498,237.95 498.2,237.87 499,237.56 499.1,237.52 499.4,237.4 500,237.33 501,237.21 501.5,237.15 502,237.09 502.5,237.03 503,236.97 503.6,236.9 504,237.22 505,238.04 506,238.85 506.8,239.5 507,239.6 508,240.12 508.4,240.33 509,240.64 509.9,241.1 510,241.11 510.9,241.21 511,241.22 512,241.32 512.5,241.38 513,241.43 513.5,241.48 514,241.54 514.5,241.59 514.6,241.6 515,241.68 516,241.87 517,242.06 517.2,242.1 517.7,242.2 518,242.25 519,242.45 519.4,242.53 520,242.64 520.3,242.7 521,242.59 521.1,242.57 522,242.42 523,242.26 523.5,242.18 524,242.1 524.5,240.8 525,240.41 526,239.62 526.5,239.22 527,238.83 527.8,238.2 528,238.2 528.7,238.2 529,238.2 530,238.2 531,238.2 532,238.2 532.4,238.2 532.5,238.2 532.9,238.2 533,238.21 533.9,238.28 534,238.29 534.7,238.34 535,238.36 535.4,238.4 536,238.44 536.9,238.51 537,238.52 537.5,238.56 538,238.6 539,238.42 539.2,238.39 539.5,238.34 539.9,238.26 540,238.25 541,238.07 541.4,238 542,237.89 542.5,237.81 542.7,237.77 542.9,237.74 543,237.72 543.6,237.61 544,237.54 544.4,237.47 544.8,237.4 545,237.4 545.1,237.4 545.9,237.4 546,237.4 546.6,237.4 547,237.4 547.4,237.4 548,237.4 548.1,237.4 548.5,237.4 549,237.4 549.4,237.4 549.8,237.4 549.9,237.35 550,237.3 550.4,237.1 551,236.8 551.9,236.35 552,236.3 552.9,235.85 553,235.8 553.2,235.7 553.9,234.14 554,233.91 554.4,233.02 555,231.68 555.4,230.78 555.9,229.66 556,229.44 556.2,228.99 556.6,228.1 556.9,226.17 557,225.52 557.4,222.95 557.9,219.73 558,219.08 558.7,214.58 559,212.64 559.1,212 559.2,211.55 559.4,210.66 559.9,208.42 560,207.98 560.1,207.53 560.4,206.19 560.8,204.4 560.9,204.65 561,204.89 561.2,205.39 562,207.36 562.1,207.61 562.5,208.6 562.7,209.29 563,210.34 563.6,212.42 564,213.81 564.2,214.5 564.3,214.47 565,214.25 565.6,214.07 566,213.95 566.4,213.82 566.5,213.79 566.8,213.7 567,213.56 568,212.85 568.3,212.64 569,212.14 569.2,212 569.3,211.53 570,208.21 570.2,207.26 570.5,205.84 571,203.48 571.7,200.16 572,198.74 572.2,197.79 572.6,195.9 573,196.11 574,196.64 574.2,196.75 574.3,196.8 575,197.5 575.4,197.9 576,198.5 576.1,198.25 576.9,196.25 577,196 577.9,193.75 578,193.5 579,191 579.2,190.5 579.4,190 579.8,191.22 580,191.82 580.6,193.65 581,194.86 581.9,197.6 582,197.67 582.1,197.73 582.3,197.86 583,198.32 584,198.97 584.2,199.1 584.4,199.23 584.5,199.3 585,200.26 586,202.18 586.9,203.9 587,204.21 587.5,205.77 588,207.32 588.7,209.5 589,209.59 590,209.91 590.6,210.1 591,210.23 591.2,210.29 592,210.54 592.5,210.7 593,210.89 593.1,210.93 594,211.28 595,211.67 595.6,211.9 596,212.06 597,212.44 597.4,212.6 598,212.83 598.1,212.87 598.7,213.1 599,213.22 600,213.61 600.5,213.8 601,215.77 601.8,218.93 602,219.72 602.4,221.3 603,221.3 603.7,221.3 604,221.3 604.9,221.3 605,221.3 605.5,221.3 606,221.3 606.1,221.3 607,221.3 607.4,221.3 608,221.23 608.6,221.16 609,221.11 609.9,221 610,220.99 611,220.87 611.1,220.86 612,220.75 612.4,220.7 613,220.77 614,220.9 614.2,220.92 614.9,221.01 615,221.02 615.5,221.08 616,221.14 616.1,221.15 617,221.26 617.3,221.3 618,221.47 618.6,221.61 619,221.71 619.8,221.9 620,221.95 621,222.19 621.1,222.21 622,222.43 622.3,222.5 623,222.03 623.6,221.62 624,221.35 624.8,220.81 625,220.68 625.4,220.41 626,220 626.7,219.67 627,219.53 627.9,219.1 628,219.05 629,218.58 629.8,218.2 630,218.1 630.2,218.01 631,217.62 632,217.13 632.9,216.69 633,216.64 633.1,216.59 633.5,216.4 633.7,216.3 634,216.4 635,216.74 636,217.09 636.8,217.36 637,217.43 637.5,217.6 638,218.08 639,219.04 640,220 641,222.08 642,224.17 642.4,225 643,226.26 644,228.37 644.3,229 644.7,227.4 645,226.2 646,224.94 646.2,224.69 647,223.68 647.7,222.8 648,223.1 648.7,223.8 649,224.1 649.7,224.8 650,224.5 650.4,224.1 650.5,224 651,223.5 651.7,222.8 652,222.51 652.4,222.12 653,221.54 654,220.57 654.3,220.28 655,219.6 655.1,219.5 655.5,220.56 656,221.88 656.7,223.74 657,224.53 657.1,224.8 658,227.64 658.4,228.9 658.6,229.2 659,229.79 659.8,230.97 660,231.27 660.4,231.86 661,232.75 661.1,232.9 662,233.8 663,234.8 663.8,235.6 664,235.8 664.8,236.6 665,236.8 665.1,236.9 666,237.51 667,238.18 667.3,238.38 668,238.86 669,239.53 669.1,239.6 669.8,239.94 670,240.04 671,240.53 671.1,240.58 671.7,240.87 672,241.01 673,241.5 673.2,241.6 673.5,241.66 674,241.77 675,241.98 675.2,242.02 675.4,242.06 675.8,242.15 676,242.19 676.5,242.29 676.6,242.32 677,242.4 677,245.6"/>
<polygon fill="#c5293a" points="112,245.6 112,242.4 112.1,242.4 113,241.75 114,241.02 114.3,240.81 115,240.3 116,240.01 116.7,239.8 116.8,239.8 117,239.8 118,239.8 118.4,239.8 119,240.01 119.7,240.25 120,240.35 121,240.7 121.9,240.83 122,240.85 123,241 123.7,241.1 124,241.33 124.5,241.71 125,242.09 125.4,242.4 126,242.82 126.7,243.3 127,243.51 128,244.2 128.5,244.2 129,244.2 130,244.2 130.6,244.2 130.8,244.15 131,244.1 132,243.84 132.9,243.61 133,243.58 134,243.33 134.1,243.3 135,243.4 136,243.52 137,243.63 137.6,243.7 138,243.79 139,244.03 139.3,244.1 140,244.26 141,244.5 142,243.75 142.6,243.3 143,243 144,242.25 144.2,242.1 145,241.1 145.6,240.35 146,239.85 147,238.6 147.4,238.1 148,237.37 148.1,237.25 149,236.15 149.7,235.3 149.8,235.29 150,235.26 151,235.11 152,234.97 152.4,234.91 152.5,234.9 153,235.11 154,235.54 155,235.97 155.3,236.1 155.8,236.35 156,236.45 157,236.95 158,237.45 158.5,237.7 159,237.64 159.1,237.62 160,237.51 161,237.39 161.7,237.3 162,237.21 163,236.93 164,236.64 164.2,236.59 164.5,236.5 165,236.4 166,236.2 166.5,236.1 166.8,236.06 167,236.03 167.6,235.94 168,235.89 169,235.74 169.3,235.7 169.8,235.8 170,235.84 171,236.04 171.3,236.1 172,236.92 172.3,237.27 173,238.08 173.7,238.9 174,239.26 174.4,239.75 175,240.48 176,241.69 176.1,241.81 177,242.9 178,243.19 178.4,243.3 178.6,243.3 179,243.3 180,243.3 181,243.3 181.2,243.3 181.5,243.3 182,243.3 183,243.3 183.2,243.3 183.7,243.47 184,243.57 185,243.9 185.4,244.03 185.6,244.1 186,244.13 187,244.2 187.9,244.27 188,244.27 188.4,244.3 189,244.35 190,244.42 191,244.49 191.1,244.5 191.3,244.5 192,244.5 193,244.5 193.1,244.5 194,244.5 195,244.5 195.1,244.5 195.5,244.46 196,244.41 196.9,244.32 197,244.31 198,244.21 198.1,244.2 199,244.11 199.1,244.1 200,244.04 200.6,244.01 201,243.98 201.8,243.93 202,243.92 202.3,243.9 203,243.86 204,243.79 204.7,243.75 205,243.73 205.5,243.7 206,243.57 206.1,243.55 207,243.32 207.5,243.2 208,243.07 208.7,242.9 209,242.95 209.3,243 210,243.12 210.9,243.27 211,243.28 211.1,243.3 212,243.46 213,243.65 213.3,243.7 214,243.6 215,243.45 216,243.3 216.3,243.25 217,243.14 218,242.98 218.4,242.92 218.5,242.9 219,242.81 220,242.64 220.9,242.48 221,242.47 222,242.29 222.4,242.22 223,242.12 223.4,242.05 223.7,242 224,242 224.2,242 225,242 226,242 226.3,242 226.4,242.05 227,242.35 227.2,242.45 228,242.85 228.8,243.25 228.9,243.3 229,243.28 229.8,243.09 230,243.05 231,242.82 231.5,242.71 232,242.59 232.4,242.5 232.7,242.44 233,242.38 234,242.19 235,242 235.2,242.17 236,242.85 236.3,243.1 236.9,243.61 237,243.69 237.6,244.2 238,244.25 238.6,244.31 239,244.36 240,244.47 241,244.59 241.1,244.6 241.2,244.53 242,243.93 243,243.19 243.7,242.67 244,242.45 244.6,242 245,241.9 245.4,241.94 246,242.01 247,242.11 247.1,242.12 247.2,242.14 248,242.22 248.4,242.26 248.9,242.32 249,242.33 249.6,242.39 250,242.44 250.6,242.5 251,242.5 251.7,242.5 252,242.5 252.1,242.5 252.3,242.5 252.8,242.5 253,242.5 253.1,242.5 253.4,242.5 253.8,242.5 253.9,242.5 254,242.5 254.5,242.5 255,242.5 255.1,242.5 255.6,242.5 256,242.5 256.2,242.5 256.9,242.43 257,242.41 257.3,242.38 258,242.31 258.4,242.26 259,242.2 259.5,242.15 260,242.09 260.6,242.03 261,241.99 261.8,241.9 262,241.9 262.9,241.9 263,241.9 263.1,241.9 263.5,241.9 264,241.9 265,241.9 265.1,241.9 265.7,241.9 266,241.9 266.3,241.9 266.5,241.9 267,241.9 267.4,241.9 268,241.75 268.2,241.7 268.5,241.62 269,241.5 269.9,241.28 270,241.25 270.2,241.2 270.7,241.08 271,241 271.8,240.8 272,240.84 272.5,240.92 273,241.01 273.5,241.1 274,241.19 274.6,241.29 274.7,241.31 275,241.36 275.2,241.4 275.8,241.7 276,241.8 276.3,241.95 276.7,242.15 277,242.3 277.4,242.5 278,242.8 278.6,243.1 279,243.1 279.2,243.1 279.7,243.1 280,243.1 280.8,243.1 281,243.1 281.8,243.1 282,243.1 283,243.1 284,243.1 284.1,243.1 284.3,243.1 285,243.1 286,243.1 286.8,243.1 287,243.1 287.5,243.1 288,243.1 288.1,243.1 289,243.1 289.4,243.1 289.7,243.1 290,243.02 290.3,242.94 291,242.76 291.1,242.73 291.4,242.66 292,242.5 292.8,241.7 293,241.5 293.1,241.4 293.7,238.35 294,236.82 294.2,235.8 294.5,230.8 294.8,226.36 295,223.4 295.3,222.66 296,220.94 296.1,220.69 296.6,219.46 296.9,218.72 297,218.48 297.25,217.86 297.6,217 297.8,217.26 298,217.53 298.15,217.72 298.2,217.79 298.5,218.18 299,218.84 299.3,219.24 299.5,219.5 300,220.75 300.2,221.25 300.3,221.5 301,223.25 301.5,224.5 302,225.75 302.1,226 303,226.53 304,227.13 305,227.72 305.3,227.9 306,229.14 306.3,229.67 307,230.91 307.3,231.44 307.9,232.5 308,232.6 309,233.57 309.7,234.25 310,234.55 310.5,235.03 311,235.52 311.4,235.91 311.8,236.3 312,236.33 313,236.49 313.1,236.5 314,236.64 314.4,236.7 315,236.8 315.6,236.89 316,236.95 316.3,237 317,237.57 317.6,238.06 318,238.38 318.1,238.46 318.9,239.11 319,239.19 319.5,239.6 320,239.72 320.2,239.78 320.8,239.93 321,239.97 321.5,240.1 322,240.22 323,240.47 323.2,240.53 324,240.72 324.7,240.9 325,240.9 325.1,240.9 326,240.9 327,240.9 327.3,240.9 328,240.9 329,240.9 329.2,240.9 329.9,240.9 330,240.88 331,240.7 331.4,240.63 332,240.52 332.5,240.43 332.6,240.42 333,240.34 333.8,240.2 334,239.93 334.4,239.39 335,238.59 335.7,237.65 335.9,237.38 336,237.25 337,235.91 337.5,235.23 337.6,235.1 338,235.1 338.3,235.1 339,235.1 340,235.1 340.4,235.1 340.9,235.1 341,235.1 341.5,235.1 342,235.27 343,235.61 344,235.96 344.3,236.06 345,236.3 345.6,236.37 346,236.42 347,236.54 347.5,236.59 347.7,236.62 348,236.65 348.4,236.7 349,237 349.4,237.2 350,237.5 351,238 351.5,238.25 351.9,238.45 352,238.5 353,239 353.6,239.3 353.8,239.4 354,239.45 355,239.69 356,239.94 356.2,239.99 357,240.18 357.8,240.38 358,240.43 359,240.68 359.1,240.7 360,240.58 360.4,240.53 361,240.45 362,240.32 362.9,240.21 363,240.19 364,240.06 364.5,240 365,240.06 365.5,240.13 366,240.19 367,240.32 367.1,240.34 368,240.45 368.8,240.56 369,240.58 369.7,240.67 369.9,240.7 370,240.8 370.5,241.3 371,241.8 371.4,242.2 372,242.8 372.2,243 372.6,243.4 373,243.35 373.5,243.28 374,243.22 375,243.09 375.3,243.05 376,242.96 376.7,242.87 377,242.83 378,242.7 378.4,242.3 379,241.7 379.5,241.2 380,240.7 380.6,240.1 381,239.7 381.2,239.5 381.3,239.4 381.5,238.63 382,236.7 382.5,237.07 382.9,237.37 383,237.44 383.2,237.59 383.8,238.03 384,238.18 384.3,238.4 384.4,238.48 384.7,238.7 385,238.62 385.2,238.57 385.3,238.54 386,238.36 386.2,238.31 386.8,238.16 387,238.1 387.4,238 387.9,236.63 388,236.36 388.2,235.81 388.6,234.71 389,233.61 389.9,231.15 390,230.87 390.1,230.6 390.6,231.07 390.8,231.25 390.9,231.34 391,231.44 391.3,231.72 391.4,231.81 391.7,232.09 391.8,232.18 392,232.37 392.2,232.56 392.3,232.65 392.6,232.93 392.8,233.11 393,233.3 393.05,233.35 393.3,233.61 393.8,234.12 393.95,234.28 394,234.33 394.3,234.64 394.4,234.74 394.8,235.15 394.9,235.26 395,235.36 395.4,235.77 395.5,235.88 395.7,236.08 395.9,236.29 396,236.39 396.1,236.49 396.3,236.7 396.4,236.72 396.8,236.82 397,236.87 397.4,236.97 398,237.11 398.5,237.24 398.7,237.28 399,237.36 399.6,237.5 399.9,237.58 400,237.6 400.2,237.8 400.4,238 400.9,238.5 401,238.6 401.2,238.8 401.3,238.9 401.8,239.4 402,239.6 402.2,239.8 402.5,240.1 402.6,240.2 402.9,240.5 403,240.6 403.4,241 403.5,241.1 403.7,241.3 404,241.43 404.1,241.48 404.3,241.57 405,241.88 405.2,241.97 405.5,242.1 406,242.32 406.3,242.46 406.4,242.5 406.9,242.55 407,242.55 408,242.65 409,242.74 409.2,242.75 410,242.83 410.1,242.84 410.8,242.9 411,242.83 411.6,242.63 412,242.5 412.9,242.2 413,242.17 413.2,242.1 413.7,242.16 414,242.2 415,242.32 415.4,242.38 415.6,242.4 416,242.45 416.4,242.5 417,242.54 417.9,242.61 418,242.61 419,242.69 419.8,242.74 420,242.76 420.3,242.78 420.7,242.81 421,242.83 422,242.9 422.4,243.04 422.7,243.14 423,243.24 424,243.58 425,243.92 425.5,244.09 425.9,244.23 426,244.26 426.7,244.5 427,244.52 427.6,244.55 428,244.57 429,244.63 429.1,244.63 430,244.68 430.2,244.69 431,244.74 432,244.79 432.3,244.81 433,244.85 433.9,244.9 434,244.89 434.6,244.86 435,244.84 435.5,244.82 436,244.79 437,244.74 437.2,244.73 437.8,244.7 438,244.69 438.9,244.65 439,244.64 439.4,244.62 439.8,244.6 440,244.59 441,244.54 441.5,244.52 441.8,244.5 442,244.46 443,244.26 444,244.06 444.1,244.04 444.2,244.02 445,243.86 445.8,243.7 446,243.69 446.4,243.67 446.6,243.66 447,243.63 448,243.58 448.5,243.55 449,243.52 450,243.47 450.6,243.44 451,243.41 451.1,243.41 452,243.36 452.8,243.32 453,243.3 454,243.25 454.9,243.2 455,242.9 455.1,242.87 456,242.57 457,242.25 458,241.92 458.9,241.62 459,241.59 460,241.27 460.2,241.2 461,239.74 462,237.91 462.4,237.18 462.5,237 463,236.04 464,234.12 464.4,233.35 465,232.2 465.3,232.62 466,233.6 466.9,234.86 467,235 467.5,235.39 468,235.79 468.6,236.26 469,236.57 469.8,237.2 470,237.33 471,238 471.2,238.13 472,238.67 472.5,239 473,239.19 473.7,239.46 474,239.57 475,239.96 475.4,240.11 475.9,240.3 476,240.31 477,240.38 477.9,240.45 478,240.45 479,240.53 480,240.6 480.5,240.61 481,240.63 482,240.65 482.1,240.66 483,240.68 483.7,240.7 484,240.69 485,240.65 486,240.61 486.4,240.6 487,240.58 488,240.54 488.9,240.5 489,240.5 490,240.42 491,240.34 491.5,240.3 492,240.26 493,240.18 493.1,240.17 494,240.1 494.8,240.04 495,240.02 495.3,240 496,239.73 496.5,239.53 497,239.34 498,238.95 498.2,238.87 499,238.56 499.1,238.52 499.4,238.4 500,238.33 501,238.21 501.5,238.15 502,238.09 502.5,238.03 503,237.97 503.6,237.9 504,238.22 505,239.04 506,239.85 506.8,240.5 507,240.6 508,241.12 508.4,241.33 509,241.64 509.9,242.1 510,242.11 510.9,242.21 511,242.22 512,242.32 512.5,242.38 513,242.43 513.5,242.48 514,242.54 514.5,242.59 514.6,242.6 515,242.68 516,242.87 517,243.06 517.2,243.1 517.7,243.2 518,243.25 519,243.45 519.4,243.53 520,243.64 520.3,243.7 521,243.59 521.1,243.57 522,243.42 523,243.26 523.5,243.18 524,243.1 524.5,241.8 525,241.41 526,240.62 526.5,240.22 527,239.83 527.8,239.2 528,239.2 528.7,239.2 529,239.2 530,239.2 531,239.2 532,239.2 532.4,239.2 532.5,239.2 532.9,239.2 533,239.21 533.9,239.28 534,239.29 534.7,239.34 535,239.36 535.4,239.4 536,239.44 536.9,239.51 537,239.52 537.5,239.56 538,239.6 539,239.42 539.2,239.39 539.5,239.34 539.9,239.26 540,239.25 541,239.07 541.4,239 542,238.89 542.5,238.81 542.7,238.77 542.9,238.74 543,238.72 543.6,238.61 544,238.54 544.4,238.47 544.8,238.4 545,238.4 545.1,238.4 545.9,238.4 546,238.4 546.6,238.4 547,238.4 547.4,238.4 548,238.4 548.1,238.4 548.5,238.4 549,238.4 549.4,238.4 549.8,238.4 549.9,238.35 550,238.3 550.4,238.1 551,237.8 551.9,237.35 552,237.3 552.9,236.85 553,236.8 553.2,236.7 553.9,235.14 554,234.91 554.4,234.02 555,232.68 555.4,231.78 555.9,230.66 556,230.44 556.2,229.99 556.6,229.1 556.9,227.17 557,226.52 557.4,223.95 557.9,220.73 558,220.08 558.7,215.58 559,213.64 559.1,213 559.2,212.55 559.4,211.66 559.9,209.42 560,208.98 560.1,208.53 560.4,207.19 560.8,205.4 560.9,205.65 561,205.89 561.2,206.39 562,208.36 562.1,208.61 562.5,209.6 562.7,210.29 563,211.34 563.6,213.42 564,214.81 564.2,215.5 564.3,215.47 565,215.25 565.6,215.07 566,214.95 566.4,214.82 566.5,214.79 566.8,214.7 567,214.56 568,213.85 568.3,213.64 569,213.14 569.2,213 569.3,212.53 570,209.21 570.2,208.26 570.5,206.84 571,204.48 571.7,201.16 572,199.74 572.2,198.79 572.6,196.9 573,197.11 574,197.64 574.2,197.75 574.3,197.8 575,198.5 575.4,198.9 576,199.5 576.1,199.25 576.9,197.25 577,197 577.9,194.75 578,194.5 579,192 579.2,191.5 579.4,191 579.8,192.22 580,192.82 580.6,194.65 581,195.86 581.9,198.6 582,198.67 582.1,198.73 582.3,198.86 583,199.32 584,199.97 584.2,200.1 584.4,200.23 584.5,200.3 585,201.26 586,203.18 586.9,204.9 587,205.21 587.5,206.77 588,208.32 588.7,210.5 589,210.59 590,210.91 590.6,211.1 591,211.23 591.2,211.29 592,211.54 592.5,211.7 593,211.89 593.1,211.93 594,212.28 595,212.67 595.6,212.9 596,213.06 597,213.44 597.4,213.6 598,213.83 598.1,213.87 598.7,214.1 599,214.22 600,214.61 600.5,214.8 601,216.77 601.8,219.93 602,220.72 602.4,222.3 603,222.3 603.7,222.3 604,222.3 604.9,222.3 605,222.3 605.5,222.3 606,222.3 606.1,222.3 607,222.3 607.4,222.3 608,222.23 608.6,222.16 609,222.11 609.9,222 610,221.99 611,221.87 611.1,221.86 612,221.75 612.4,221.7 613,221.77 614,221.9 614.2,221.92 614.9,222.01 615,222.02 615.5,222.08 616,222.14 616.1,222.15 617,222.26 617.3,222.3 618,222.47 618.6,222.61 619,222.71 619.8,222.9 620,222.95 621,223.19 621.1,223.21 622,223.43 622.3,223.5 623,223.03 623.6,222.62 624,222.35 624.8,221.81 625,221.68 625.4,221.41 626,221 626.7,220.67 627,220.53 627.9,220.1 628,220.05 629,219.58 629.8,219.2 630,219.1 630.2,219.01 631,218.62 632,218.13 632.9,217.69 633,217.64 633.1,217.59 633.5,217.4 633.7,217.3 634,217.4 635,217.74 636,218.09 636.8,218.36 637,218.43 637.5,218.6 638,219.08 639,220.04 640,221 641,223.08 642,225.17 642.4,226 643,227.26 644,229.37 644.3,230 644.7,228.4 645,227.2 646,225.94 646.2,225.69 647,224.68 647.7,223.8 648,224.1 648.7,224.8 649,225.1 649.7,225.8 650,225.5 650.4,225.1 650.5,225 651,224.5 651.7,223.8 652,223.51 652.4,223.12 653,222.54 654,221.57 654.3,221.28 655,220.6 655.1,220.5 655.5,221.56 656,222.88 656.7,224.74 657,225.53 657.1,225.8 658,228.64 658.4,229.9 658.6,230.2 659,230.79 659.8,231.97 660,232.27 660.4,232.86 661,233.75 661.1,233.9 662,234.8 663,235.8 663.8,236.6 664,236.8 664.8,237.6 665,237.8 665.1,237.9 666,238.51 667,239.18 667.3,239.38 668,239.86 669,240.53 669.1,240.6 669.8,240.94 670,241.04 671,241.53 671.1,241.58 671.7,241.87 672,242.01 673,242.5 673.2,242.6 673.5,242.66 674,242.77 675,242.98 675.2,243.02 675.4,243.06 675.8,243.15 676,243.19 676.5,243.29 676.6,243.32 677,243.4 677,245.6"/>
<polyline fill="none" stroke="#000" stroke-width="1.9" stroke-linejoin="round" points="540,194.22 541,197 541.4,196.44 542,195.59 542.5,194.88 542.7,194.6 542.9,193.68 543,193.22 543.6,190.47 544,188.64 544.4,186.8 544.8,185.16 545,184.35 545.1,183.94 545.9,180.66 546,180.25 546.6,177.8 547,178.9 547.4,179.7 548,180.9 548.1,181.1 548.5,181.9 549,178.57 549.4,175.9 549.8,171.54 549.9,170.45 550,169.36 550.4,165 551,164.4 551.9,163.5 552,163.25 552.9,161 553,160.73 553.2,160.2 553.9,158.33 554,158.07 554.4,157 555,155.8 555.4,155 555.9,153 556,152.6 556.2,151.8 556.6,150.33 556.9,149.23 557,148.87 557.4,147.4 557.9,145.02 558,144.54 558.7,141.2 559,139.65 559.1,139.13 559.2,138.62 559.4,137.58 559.9,135 560,135.25 560.1,135.5 560.4,136.25 560.8,137.25 560.9,137.5 561,138.02 561.2,139.05 562,143.18 562.1,143.7 562.5,148.68 562.7,151.17 563,154.9 563.6,167.3 564,174.44 564.2,178.01 564.3,179.8 565,182.37 565.6,184.57 566,186.03 566.4,187.5 566.5,187.16 566.8,186.13 567,185.45 568,182.03 568.3,181 569,174.7 569.2,172.9 569.3,172 570,164.42 570.2,162.25 570.5,159 571,156.75 571.7,153.6 572,154.32 572.2,154.79 572.6,155.75 573,156.7 574,161.95 574.2,163 574.3,163.29 575,165.36 575.4,166.54 576,168.31 576.1,168.6 576.9,165.53 577,165.15 577.9,161.7 578,161.64 579,161.01 579.2,160.88 579.4,160.75 579.8,160.5 580,161.02 580.6,162.57 581,163.6 581.9,167.89 582,168.37 582.1,168.85 582.3,169.8 583,171.16 584,173.11 584.2,173.5 584.4,173.58 584.5,173.62 585,173.81 586,174.2 586.9,176.48 587,176.73 587.5,178 588,181.42 588.7,186.2 589,187.08 590,190.03 590.6,191.8 591,191.9 591.2,191.94 592,192.14 592.5,192.26 593,192.38 593.1,192.4 594,193.08 595,193.84 595.6,194.3 596,194.49 597,194.97 597.4,195.16 598,195.45 598.1,195.5 598.7,195.05 599,194.83 600,194.07 600.5,193.7 601,195.12 601.8,197.4 602,197.93 602.4,198.98 603,200.56 603.7,202.4 604,201.88 604.9,200.33 605,200.16 605.5,199.3 606,199.18 606.1,199.16 607,198.94 607.4,198.84 608,198.7 608.6,198.45 609,198.28 609.9,197.9 610,197.86 611,197.44 611.1,197.4 612,196.96 612.4,196.77 613,196.48 614,196 614.2,195.9 614.9,196.45 615,196.53 615.5,196.93 616,197.32 616.1,197.4 617,198.08 617.3,198.31 618,198.84 618.6,199.3 619,199.49 619.8,199.88 620,199.97 621,200.45 621.1,200.5 622,200.97 622.3,201.12 623,201.49 623.6,201.8 624,201.11 624.8,199.73 625,199.39 625.4,198.7 626,198.24 626.7,197.71 627,197.48 627.9,196.8 628,196.77 629,196.51 629.8,196.3 630,196.25 630.2,196.2 631,195.68 632,195.02 632.9,194.43 633,194.37 633.1,194.3 633.5,194.83 633.7,195.09 634,195.48 635,196.8 636,195.8 636.8,195 637,194.8 637.5,194.3 638,195.18 639,196.94 640,198.7 641,200.74 642,202.78 642.4,203.6 643,204.8 644,206.8 644.3,207.4 644.7,206.35 645,205.56 646,202.93 646.2,202.4 647,198.43 647.7,194.96 648,193.47 648.7,190 649,190.62 649.7,192.06 650,192.67 650.4,193.49 650.5,193.7 651,192.73 651.7,191.36 652,190.78 652.4,190 653,188.42 654,185.79 654.3,185 655,182.43 655.1,182.07 655.5,180.6 656,181.39 656.7,182.5 657,183.48 657.1,183.81 658,186.74 658.4,188.05 658.6,188.7 659,188.91 659.8,189.32 660,189.43 660.4,189.64 661,189.95 661.1,190 662,190 663,190 663.8,191.38 664,191.72 664.8,193.1 665,192.65 665.1,192.43 666,190.41 667,188.17 667.3,187.5 668,186.97 669,186.21 669.1,186.13 669.8,185.6 670,186.32 671,189.89 671.1,190.25 671.7,192.4 672,194.68 673,202.29 673.2,203.82 673.5,206.1 674,208.07 675,212.02 675.2,212.81 675.4,213.6 675.8,214.83 676,215.45 676.5,216.99 676.6,217.3 677,219.5"/>
<rect x="84.5" y="30.5" width="620.0" height="225.0" fill="none" stroke="#000" stroke-width="1.1"/>
<line x1="79.6" y1="245.4" x2="84.5" y2="245.4" stroke="#000" stroke-width="1.1"/>
<text x="66.38" y="251" font-size="14.38" fill="#000">0</text>
<line x1="79.6" y1="210.07" x2="84.5" y2="210.07" stroke="#000" stroke-width="1.1"/>
<text x="57.55 66.38" y="215.67" font-size="14.38" fill="#000">20</text>
<line x1="79.6" y1="174.73" x2="84.5" y2="174.73" stroke="#000" stroke-width="1.1"/>
<text x="57.55 66.38" y="180.33" font-size="14.38" fill="#000">40</text>
<line x1="79.6" y1="139.4" x2="84.5" y2="139.4" stroke="#000" stroke-width="1.1"/>
<text x="57.55 66.38" y="145" font-size="14.38" fill="#000">60</text>
<line x1="79.6" y1="104.06" x2="84.5" y2="104.06" stroke="#000" stroke-width="1.1"/>
<text x="57.55 66.38" y="109.66" font-size="14.38" fill="#000">80</text>
<line x1="79.6" y1="68.73" x2="84.5" y2="68.73" stroke="#000" stroke-width="1.1"/>
<text x="48.71 57.55 66.38" y="74.33" font-size="14.38" fill="#000">100</text>
<line x1="79.6" y1="33.4" x2="84.5" y2="33.4" stroke="#000" stroke-width="1.1"/>
<text x="48.71 57.55 66.38" y="39" font-size="14.38" fill="#000">120</text>
<line x1="94.4" y1="255.5" x2="94.4" y2="260.4" stroke="#000" stroke-width="1.1"/>
<text x="-88.81 -79.97 -71.44 -66.93 -57.45 -48.77 -40.25 -34.93 -26.09 -17.25 -8.42" y="0" font-size="14.38" fill="#000" transform="translate(92,275.6) rotate(-30)">30-Sep-2023</text>
<line x1="149.2" y1="255.5" x2="149.2" y2="260.4" stroke="#000" stroke-width="1.1"/>
<text x="-87.03 -78.19 -69.66 -64.89 -53.22 -45.08 -40.25 -34.93 -26.09 -17.25 -8.42" y="0" font-size="14.38" fill="#000" transform="translate(146.8,275.6) rotate(-30)">03-Oct-2023</text>
<line x1="204" y1="255.5" x2="204" y2="260.4" stroke="#000" stroke-width="1.1"/>
<text x="-87.03 -78.19 -69.66 -64.89 -53.22 -45.08 -40.25 -34.93 -26.09 -17.25 -8.42" y="0" font-size="14.38" fill="#000" transform="translate(201.6,275.6) rotate(-30)">06-Oct-2023</text>
<line x1="258.8" y1="255.5" x2="258.8" y2="260.4" stroke="#000" stroke-width="1.1"/>
<text x="-87.03 -78.19 -69.66 -64.89 -53.22 -45.08 -40.25 -34.93 -26.09 -17.25 -8.42" y="0" font-size="14.38" fill="#000" transform="translate(256.4,275.6) rotate(-30)">09-Oct-2023</text>
<line x1="313.6" y1="255.5" x2="313.6" y2="260.4" stroke="#000" stroke-width="1.1"/>
<text x="-87.03 -78.19 -69.66 -64.89 -53.22 -45.08 -40.25 -34.93 -26.09 -17.25 -8.42" y="0" font-size="14.38" fill="#000" transform="translate(311.2,275.6) rotate(-30)">12-Oct-2023</text>
<line x1="368.4" y1="255.5" x2="368.4" y2="260.4" stroke="#000" stroke-width="1.1"/>
<text x="-87.03 -78.19 -69.66 -64.89 -53.22 -45.08 -40.25 -34.93 -26.09 -17.25 -8.42" y="0" font-size="14.38" fill="#000" transform="translate(366,275.6) rotate(-30)">15-Oct-2023</text>
<line x1="423.2" y1="255.5" x2="423.2" y2="260.4" stroke="#000" stroke-width="1.1"/>
<text x="-87.03 -78.19 -69.66 -64.89 -53.22 -45.08 -40.25 -34.93 -26.09 -17.25 -8.42" y="0" font-size="14.38" fill="#000" transform="translate(420.8,275.6) rotate(-30)">18-Oct-2023</text>
<line x1="478" y1="255.5" x2="478" y2="260.4" stroke="#000" stroke-width="1.1"/>
<text x="-87.03 -78.19 -69.66 -64.89 -53.22 -45.08 -40.25 -34.93 -26.09 -17.25 -8.42" y="0" font-size="14.38" fill="#000" transform="translate(475.6,275.6) rotate(-30)">21-Oct-2023</text>
<line x1="532.8" y1="255.5" x2="532.8" y2="260.4" stroke="#000" stroke-width="1.1"/>
<text x="-87.03 -78.19 -69.66 -64.89 -53.22 -45.08 -40.25 -34.93 -26.09 -17.25 -8.42" y="0" font-size="14.38" fill="#000" transform="translate(530.4,275.6) rotate(-30)">24-Oct-2023</text>
<line x1="587.6" y1="255.5" x2="587.6" y2="260.4" stroke="#000" stroke-width="1.1"/>
<text x="-87.03 -78.19 -69.66 -64.89 -53.22 -45.08 -40.25 -34.93 -26.09 -17.25 -8.42" y="0" font-size="14.38" fill="#000" transform="translate(585.2,275.6) rotate(-30)">27-Oct-2023</text>
<line x1="642.4" y1="255.5" x2="642.4" y2="260.4" stroke="#000" stroke-width="1.1"/>
<text x="-87.03 -78.19 -69.66 -64.89 -53.22 -45.08 -40.25 -34.93 -26.09 -17.25 -8.42" y="0" font-size="14.38" fill="#000" transform="translate(640,275.6) rotate(-30)">30-Oct-2023</text>
<line x1="697.2" y1="255.5" x2="697.2" y2="260.4" stroke="#000" stroke-width="1.1"/>
<text x="-89.36 -80.53 -72 -67.09 -56.46 -47.69 -39.88 -34.93 -26.09 -17.25 -8.42" y="0" font-size="14.38" fill="#000" transform="translate(694.8,275.6) rotate(-30)">02-Nov-2023</text>
<text x="222.47 233.81 244.2 254.83 261.4 270.26 280.44 285.75 294.95 305.33 316.29 322.51 329.2 333.93 344.5 355.45 361.52 366.05 376.43 386.77 392.69 398.65 408.8 413.81 424.87 436.88 442.2 451.4 461.78 472.13 481.36 491.77 502.72 508.94 515.55 526.32 532.39 536.92 547.3 557.41" y="21.8" font-size="17.25" fill="#000">Source contribution to BC concentrations</text>
<g transform="translate(33.2,272.5) rotate(-90)"><text x="-0.04 12.86 26.86 33.06 43.79 55.9 67.97 78.72 90.87 103.64 110.89 118.6 131.16 138.24 143.52 155.63 167.68 174.01 181.72 194.05 206.11 213.08" y="0" font-size="20.12" fill="#000">BC concentration (ng m</text><rect x="232.1" y="-11.3" width="8.4" height="1.05" fill="#000"/><text x="241.9" y="-6.4" font-size="13.3">3</text><text x="252.84" y="0" font-size="20.12" fill="#000">)</text></g>
<rect x="84.5" y="345.5" width="77.8" height="47" fill="#c5293a"/>
<text x="106.6 117.01 128.08" y="372.1" font-size="14.38" fill="#000">DOM</text>
<rect x="162" y="345.5" width="77.8" height="47" fill="#3b7ab5"/>
<text x="186.37 195.56 205.54" y="372.1" font-size="14.38" fill="#000">ENE</text>
<rect x="239.5" y="345.5" width="77.8" height="47" fill="#6f7f6f"/>
<text x="265.16 273.42 280.92" y="372.1" font-size="14.38" fill="#000">FLR</text>
<rect x="317" y="345.5" width="77.8" height="47" fill="#c86350"/>
<text x="343.21 347.26 357.8" y="372.1" font-size="14.38" fill="#000">IND</text>
<rect x="394.5" y="345.5" width="77.8" height="47" fill="#e6cf2f"/>
<text x="419.05 428.28 438.09" y="372.1" font-size="14.38" fill="#000">SHP</text>
<rect x="472" y="345.5" width="77.8" height="47" fill="#f283bf"/>
<text x="495.31 508.58 517.63" y="372.1" font-size="14.38" fill="#000">WST</text>
<rect x="549.5" y="345.5" width="77.8" height="47" fill="#9370db"/>
<text x="574.56 582.83 592.8" y="372.1" font-size="14.38" fill="#000">TRA</text>
<rect x="627" y="345.5" width="77.8" height="47" fill="#000000"/>
<text x="656.19 665.72" y="372.1" font-size="14.38" fill="#fff">BB</text>
<line x1="84.5" y1="392.5" x2="84.5" y2="397.4" stroke="#000" stroke-width="1.1"/>
<line x1="162" y1="392.5" x2="162" y2="397.4" stroke="#000" stroke-width="1.1"/>
<line x1="239.5" y1="392.5" x2="239.5" y2="397.4" stroke="#000" stroke-width="1.1"/>
<line x1="317" y1="392.5" x2="317" y2="397.4" stroke="#000" stroke-width="1.1"/>
<line x1="394.5" y1="392.5" x2="394.5" y2="397.4" stroke="#000" stroke-width="1.1"/>
<line x1="472" y1="392.5" x2="472" y2="397.4" stroke="#000" stroke-width="1.1"/>
<line x1="549.5" y1="392.5" x2="549.5" y2="397.4" stroke="#000" stroke-width="1.1"/>
<line x1="627" y1="392.5" x2="627" y2="397.4" stroke="#000" stroke-width="1.1"/>
<line x1="704.5" y1="392.5" x2="704.5" y2="397.4" stroke="#000" stroke-width="1.1"/>
<rect x="84.5" y="345.5" width="620" height="47" fill="none" stroke="#000" stroke-width="1.1"/>
</svg>
</body></html>
